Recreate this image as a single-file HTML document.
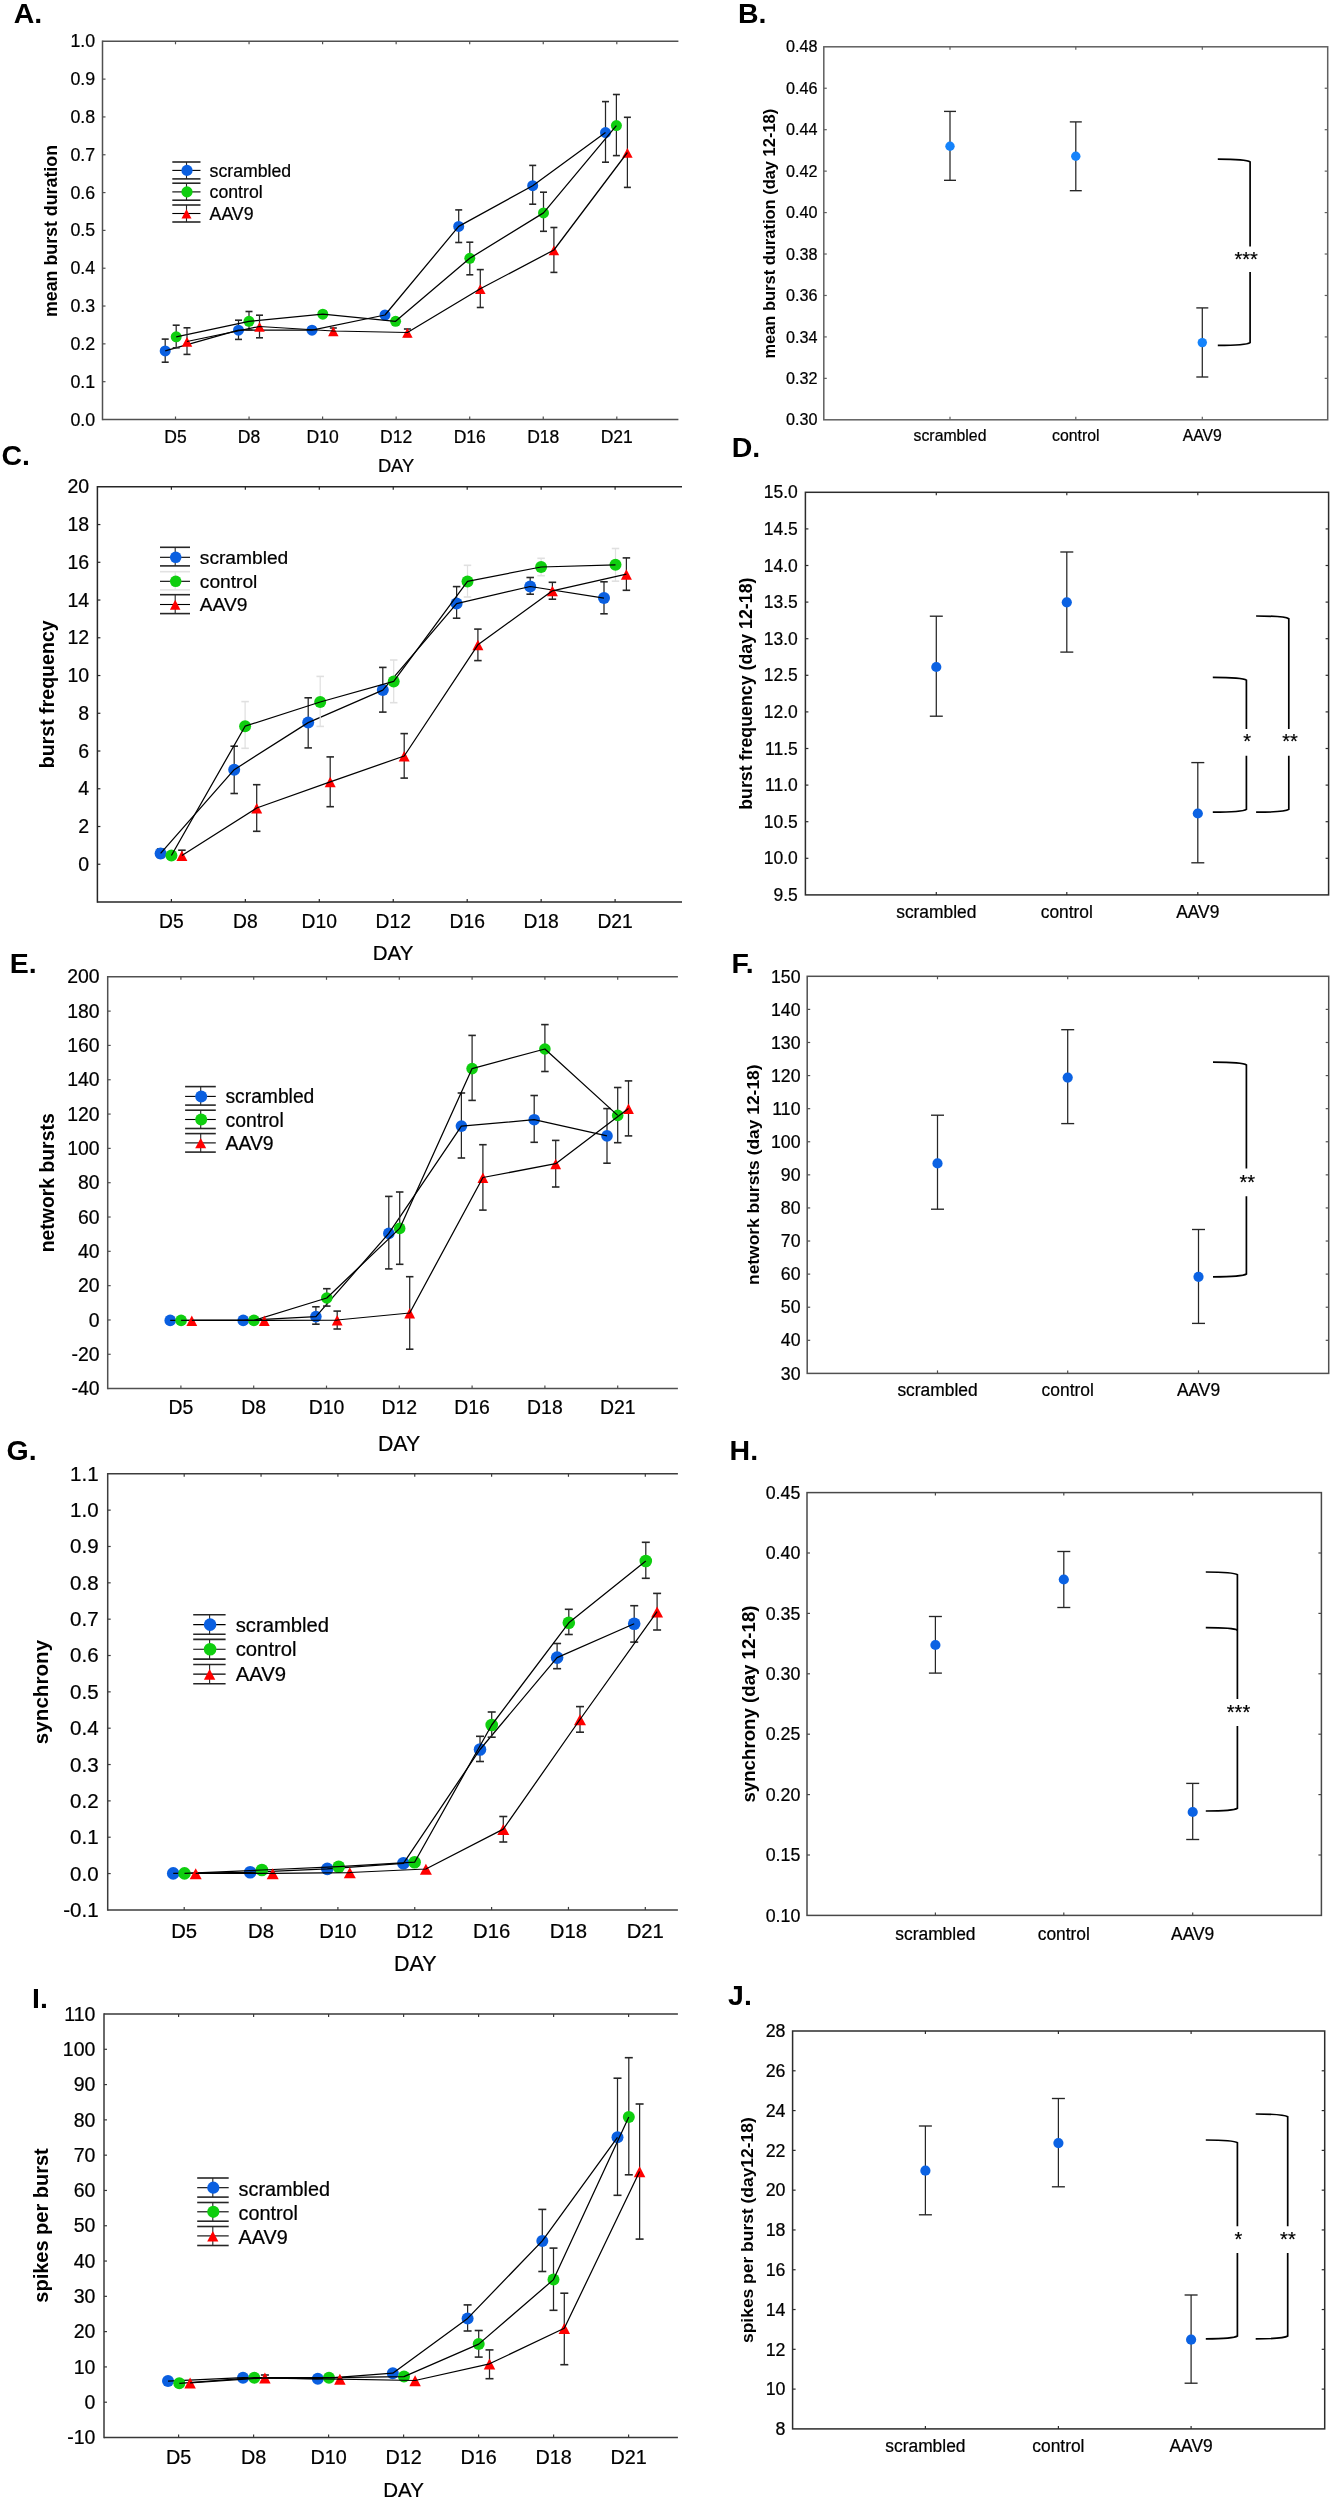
<!DOCTYPE html>
<html><head><meta charset="utf-8"><title>figure</title>
<style>
html,body{margin:0;padding:0;background:#fff;}
svg{display:block;will-change:transform;}
text{font-family:"Liberation Sans", sans-serif;}
text:not([font-weight]){stroke:#000;stroke-width:0.22px;}
</style></head>
<body>
<svg width="1332" height="2500" viewBox="0 0 1332 2500">
<g>
<rect width="1332" height="2500" fill="#fff"/>
<line x1="102.5" y1="41.3" x2="678.4" y2="41.3" stroke="#505050" stroke-width="1.5"/>
<line x1="102.5" y1="419.5" x2="678.4" y2="419.5" stroke="#505050" stroke-width="1.5"/>
<line x1="102.5" y1="40.55" x2="102.5" y2="420.25" stroke="#505050" stroke-width="1.5"/>
<text x="95.2" y="425.55" font-size="17.8" text-anchor="end">0.0</text>
<line x1="102.5" y1="381.68" x2="105.5" y2="381.68" stroke="#505050" stroke-width="1.2"/>
<text x="95.2" y="387.73" font-size="17.8" text-anchor="end">0.1</text>
<line x1="102.5" y1="343.86" x2="105.5" y2="343.86" stroke="#505050" stroke-width="1.2"/>
<text x="95.2" y="349.91" font-size="17.8" text-anchor="end">0.2</text>
<line x1="102.5" y1="306.04" x2="105.5" y2="306.04" stroke="#505050" stroke-width="1.2"/>
<text x="95.2" y="312.09" font-size="17.8" text-anchor="end">0.3</text>
<line x1="102.5" y1="268.22" x2="105.5" y2="268.22" stroke="#505050" stroke-width="1.2"/>
<text x="95.2" y="274.27" font-size="17.8" text-anchor="end">0.4</text>
<line x1="102.5" y1="230.4" x2="105.5" y2="230.4" stroke="#505050" stroke-width="1.2"/>
<text x="95.2" y="236.45" font-size="17.8" text-anchor="end">0.5</text>
<line x1="102.5" y1="192.58" x2="105.5" y2="192.58" stroke="#505050" stroke-width="1.2"/>
<text x="95.2" y="198.63" font-size="17.8" text-anchor="end">0.6</text>
<line x1="102.5" y1="154.76" x2="105.5" y2="154.76" stroke="#505050" stroke-width="1.2"/>
<text x="95.2" y="160.81" font-size="17.8" text-anchor="end">0.7</text>
<line x1="102.5" y1="116.94" x2="105.5" y2="116.94" stroke="#505050" stroke-width="1.2"/>
<text x="95.2" y="122.99" font-size="17.8" text-anchor="end">0.8</text>
<line x1="102.5" y1="79.12" x2="105.5" y2="79.12" stroke="#505050" stroke-width="1.2"/>
<text x="95.2" y="85.17" font-size="17.8" text-anchor="end">0.9</text>
<text x="95.2" y="47.35" font-size="17.8" text-anchor="end">1.0</text>
<line x1="175.5" y1="41.3" x2="175.5" y2="44.3" stroke="#505050" stroke-width="1.2"/>
<line x1="175.5" y1="419.5" x2="175.5" y2="416.5" stroke="#505050" stroke-width="1.2"/>
<text x="175.5" y="443.2" font-size="17.5" text-anchor="middle">D5</text>
<line x1="249.05" y1="41.3" x2="249.05" y2="44.3" stroke="#505050" stroke-width="1.2"/>
<line x1="249.05" y1="419.5" x2="249.05" y2="416.5" stroke="#505050" stroke-width="1.2"/>
<text x="249.05" y="443.2" font-size="17.5" text-anchor="middle">D8</text>
<line x1="322.6" y1="41.3" x2="322.6" y2="44.3" stroke="#505050" stroke-width="1.2"/>
<line x1="322.6" y1="419.5" x2="322.6" y2="416.5" stroke="#505050" stroke-width="1.2"/>
<text x="322.6" y="443.2" font-size="17.5" text-anchor="middle">D10</text>
<line x1="396.15" y1="41.3" x2="396.15" y2="44.3" stroke="#505050" stroke-width="1.2"/>
<line x1="396.15" y1="419.5" x2="396.15" y2="416.5" stroke="#505050" stroke-width="1.2"/>
<text x="396.15" y="443.2" font-size="17.5" text-anchor="middle">D12</text>
<line x1="469.7" y1="41.3" x2="469.7" y2="44.3" stroke="#505050" stroke-width="1.2"/>
<line x1="469.7" y1="419.5" x2="469.7" y2="416.5" stroke="#505050" stroke-width="1.2"/>
<text x="469.7" y="443.2" font-size="17.5" text-anchor="middle">D16</text>
<line x1="543.25" y1="41.3" x2="543.25" y2="44.3" stroke="#505050" stroke-width="1.2"/>
<line x1="543.25" y1="419.5" x2="543.25" y2="416.5" stroke="#505050" stroke-width="1.2"/>
<text x="543.25" y="443.2" font-size="17.5" text-anchor="middle">D18</text>
<line x1="616.8" y1="41.3" x2="616.8" y2="44.3" stroke="#505050" stroke-width="1.2"/>
<line x1="616.8" y1="419.5" x2="616.8" y2="416.5" stroke="#505050" stroke-width="1.2"/>
<text x="616.8" y="443.2" font-size="17.5" text-anchor="middle">D21</text>
<text x="396" y="472.3" font-size="18.3" text-anchor="middle">DAY</text>
<text x="56.9" y="231" font-size="17.8" text-anchor="middle" font-weight="bold" textLength="172" lengthAdjust="spacingAndGlyphs" transform="rotate(-90 56.9 231)">mean burst duration</text>
<text x="13.7" y="22.5" font-size="28.5" font-weight="bold">A.</text>
<line x1="186.5" y1="162" x2="186.5" y2="178.9" stroke="#262626" stroke-width="1.1"/>
<line x1="172.3" y1="162" x2="200.5" y2="162" stroke="#262626" stroke-width="1.6"/>
<line x1="172.3" y1="178.9" x2="200.5" y2="178.9" stroke="#262626" stroke-width="1.6"/>
<line x1="172.3" y1="170.4" x2="200.5" y2="170.4" stroke="#000" stroke-width="1.1"/>
<circle cx="187" cy="170.4" r="5.6" fill="#0a5fe0"/>
<text x="209.6" y="176.9" font-size="17.7" textLength="81.6" lengthAdjust="spacingAndGlyphs">scrambled</text>
<line x1="186.5" y1="183.2" x2="186.5" y2="200.2" stroke="#262626" stroke-width="1.1"/>
<line x1="172.3" y1="183.2" x2="200.5" y2="183.2" stroke="#262626" stroke-width="1.6"/>
<line x1="172.3" y1="200.2" x2="200.5" y2="200.2" stroke="#262626" stroke-width="1.6"/>
<line x1="172.3" y1="191.9" x2="200.5" y2="191.9" stroke="#000" stroke-width="1.1"/>
<circle cx="187" cy="191.9" r="5.6" fill="#0fce0f"/>
<text x="209.6" y="197.6" font-size="17.7">control</text>
<line x1="186.5" y1="205" x2="186.5" y2="222" stroke="#262626" stroke-width="1.1"/>
<line x1="172.3" y1="205" x2="200.5" y2="205" stroke="#262626" stroke-width="1.6"/>
<line x1="172.3" y1="222" x2="200.5" y2="222" stroke="#262626" stroke-width="1.6"/>
<line x1="172.3" y1="213.5" x2="200.5" y2="213.5" stroke="#000" stroke-width="1.1"/>
<path d="M186.5 209.2L191.5 218.4L181.5 218.4Z" fill="#ff0000"/>
<text x="209.6" y="219.7" font-size="17.7">AAV9</text>
<line x1="165.2" y1="339.1" x2="165.2" y2="362.2" stroke="#262626" stroke-width="1.25"/>
<line x1="161.7" y1="339.1" x2="168.7" y2="339.1" stroke="#262626" stroke-width="1.6"/>
<line x1="161.7" y1="362.2" x2="168.7" y2="362.2" stroke="#262626" stroke-width="1.6"/>
<line x1="238.5" y1="320.2" x2="238.5" y2="339.4" stroke="#262626" stroke-width="1.25"/>
<line x1="235" y1="320.2" x2="242" y2="320.2" stroke="#262626" stroke-width="1.6"/>
<line x1="235" y1="339.4" x2="242" y2="339.4" stroke="#262626" stroke-width="1.6"/>
<line x1="312" y1="327" x2="312" y2="333" stroke="#262626" stroke-width="1.25"/>
<line x1="308.5" y1="327" x2="315.5" y2="327" stroke="#262626" stroke-width="1.6"/>
<line x1="308.5" y1="333" x2="315.5" y2="333" stroke="#262626" stroke-width="1.6"/>
<line x1="385" y1="312" x2="385" y2="318" stroke="#262626" stroke-width="1.25"/>
<line x1="381.5" y1="312" x2="388.5" y2="312" stroke="#262626" stroke-width="1.6"/>
<line x1="381.5" y1="318" x2="388.5" y2="318" stroke="#262626" stroke-width="1.6"/>
<line x1="458.7" y1="209.9" x2="458.7" y2="242.5" stroke="#262626" stroke-width="1.25"/>
<line x1="455.2" y1="209.9" x2="462.2" y2="209.9" stroke="#262626" stroke-width="1.6"/>
<line x1="455.2" y1="242.5" x2="462.2" y2="242.5" stroke="#262626" stroke-width="1.6"/>
<line x1="532.7" y1="165.4" x2="532.7" y2="204.2" stroke="#262626" stroke-width="1.25"/>
<line x1="529.2" y1="165.4" x2="536.2" y2="165.4" stroke="#262626" stroke-width="1.6"/>
<line x1="529.2" y1="204.2" x2="536.2" y2="204.2" stroke="#262626" stroke-width="1.6"/>
<line x1="605.5" y1="101.6" x2="605.5" y2="162.2" stroke="#262626" stroke-width="1.25"/>
<line x1="602" y1="101.6" x2="609" y2="101.6" stroke="#262626" stroke-width="1.6"/>
<line x1="602" y1="162.2" x2="609" y2="162.2" stroke="#262626" stroke-width="1.6"/>
<circle cx="165.2" cy="350.9" r="5.5" fill="#0a5fe0"/>
<circle cx="238.5" cy="330.2" r="5.5" fill="#0a5fe0"/>
<circle cx="312" cy="330.2" r="5.5" fill="#0a5fe0"/>
<circle cx="385" cy="315" r="5.5" fill="#0a5fe0"/>
<circle cx="458.7" cy="226.4" r="5.5" fill="#0a5fe0"/>
<circle cx="532.7" cy="185.7" r="5.5" fill="#0a5fe0"/>
<circle cx="605.5" cy="132.6" r="5.5" fill="#0a5fe0"/>
<polyline points="165.2,350.9 238.5,330.2 312,330.2 385,315 458.7,226.4 532.7,185.7 605.5,132.6" fill="none" stroke="#000" stroke-width="1.25" stroke-linejoin="round"/>
<line x1="176.2" y1="325.2" x2="176.2" y2="347.8" stroke="#262626" stroke-width="1.25"/>
<line x1="172.7" y1="325.2" x2="179.7" y2="325.2" stroke="#262626" stroke-width="1.6"/>
<line x1="172.7" y1="347.8" x2="179.7" y2="347.8" stroke="#262626" stroke-width="1.6"/>
<line x1="249" y1="311.5" x2="249" y2="330" stroke="#262626" stroke-width="1.25"/>
<line x1="245.5" y1="311.5" x2="252.5" y2="311.5" stroke="#262626" stroke-width="1.6"/>
<line x1="245.5" y1="330" x2="252.5" y2="330" stroke="#262626" stroke-width="1.6"/>
<line x1="322.8" y1="311" x2="322.8" y2="317" stroke="#262626" stroke-width="1.25"/>
<line x1="319.3" y1="311" x2="326.3" y2="311" stroke="#262626" stroke-width="1.6"/>
<line x1="319.3" y1="317" x2="326.3" y2="317" stroke="#262626" stroke-width="1.6"/>
<line x1="395.6" y1="318" x2="395.6" y2="324" stroke="#262626" stroke-width="1.25"/>
<line x1="392.1" y1="318" x2="399.1" y2="318" stroke="#262626" stroke-width="1.6"/>
<line x1="392.1" y1="324" x2="399.1" y2="324" stroke="#262626" stroke-width="1.6"/>
<line x1="469.8" y1="242.2" x2="469.8" y2="274.8" stroke="#262626" stroke-width="1.25"/>
<line x1="466.3" y1="242.2" x2="473.3" y2="242.2" stroke="#262626" stroke-width="1.6"/>
<line x1="466.3" y1="274.8" x2="473.3" y2="274.8" stroke="#262626" stroke-width="1.6"/>
<line x1="543.5" y1="192.2" x2="543.5" y2="231.3" stroke="#262626" stroke-width="1.25"/>
<line x1="540" y1="192.2" x2="547" y2="192.2" stroke="#262626" stroke-width="1.6"/>
<line x1="540" y1="231.3" x2="547" y2="231.3" stroke="#262626" stroke-width="1.6"/>
<line x1="616.4" y1="94.5" x2="616.4" y2="155.6" stroke="#262626" stroke-width="1.25"/>
<line x1="612.9" y1="94.5" x2="619.9" y2="94.5" stroke="#262626" stroke-width="1.6"/>
<line x1="612.9" y1="155.6" x2="619.9" y2="155.6" stroke="#262626" stroke-width="1.6"/>
<circle cx="176.2" cy="336.8" r="5.5" fill="#0fce0f"/>
<circle cx="249" cy="321.3" r="5.5" fill="#0fce0f"/>
<circle cx="322.8" cy="314.2" r="5.5" fill="#0fce0f"/>
<circle cx="395.6" cy="321.3" r="5.5" fill="#0fce0f"/>
<circle cx="469.8" cy="258.3" r="5.5" fill="#0fce0f"/>
<circle cx="543.5" cy="212.9" r="5.5" fill="#0fce0f"/>
<circle cx="616.4" cy="125.6" r="5.5" fill="#0fce0f"/>
<polyline points="176.2,336.8 249,321.3 322.8,314.2 395.6,321.3 469.8,258.3 543.5,212.9 616.4,125.6" fill="none" stroke="#000" stroke-width="1.25" stroke-linejoin="round"/>
<line x1="187" y1="327.8" x2="187" y2="354.4" stroke="#262626" stroke-width="1.25"/>
<line x1="183.5" y1="327.8" x2="190.5" y2="327.8" stroke="#262626" stroke-width="1.6"/>
<line x1="183.5" y1="354.4" x2="190.5" y2="354.4" stroke="#262626" stroke-width="1.6"/>
<line x1="259.5" y1="315.2" x2="259.5" y2="337.8" stroke="#262626" stroke-width="1.25"/>
<line x1="256" y1="315.2" x2="263" y2="315.2" stroke="#262626" stroke-width="1.6"/>
<line x1="256" y1="337.8" x2="263" y2="337.8" stroke="#262626" stroke-width="1.6"/>
<line x1="333.3" y1="328" x2="333.3" y2="334" stroke="#262626" stroke-width="1.25"/>
<line x1="329.8" y1="328" x2="336.8" y2="328" stroke="#262626" stroke-width="1.6"/>
<line x1="329.8" y1="334" x2="336.8" y2="334" stroke="#262626" stroke-width="1.6"/>
<line x1="407.4" y1="329" x2="407.4" y2="336.5" stroke="#262626" stroke-width="1.25"/>
<line x1="403.9" y1="329" x2="410.9" y2="329" stroke="#262626" stroke-width="1.6"/>
<line x1="403.9" y1="336.5" x2="410.9" y2="336.5" stroke="#262626" stroke-width="1.6"/>
<line x1="480.3" y1="269.6" x2="480.3" y2="307.5" stroke="#262626" stroke-width="1.25"/>
<line x1="476.8" y1="269.6" x2="483.8" y2="269.6" stroke="#262626" stroke-width="1.6"/>
<line x1="476.8" y1="307.5" x2="483.8" y2="307.5" stroke="#262626" stroke-width="1.6"/>
<line x1="553.9" y1="227.5" x2="553.9" y2="272.4" stroke="#262626" stroke-width="1.25"/>
<line x1="550.4" y1="227.5" x2="557.4" y2="227.5" stroke="#262626" stroke-width="1.6"/>
<line x1="550.4" y1="272.4" x2="557.4" y2="272.4" stroke="#262626" stroke-width="1.6"/>
<line x1="627.4" y1="117.3" x2="627.4" y2="187.4" stroke="#262626" stroke-width="1.25"/>
<line x1="623.9" y1="117.3" x2="630.9" y2="117.3" stroke="#262626" stroke-width="1.6"/>
<line x1="623.9" y1="187.4" x2="630.9" y2="187.4" stroke="#262626" stroke-width="1.6"/>
<path d="M187 336.9L192.25 346.7L181.75 346.7Z" fill="#ff0000"/>
<path d="M259.5 321.9L264.75 331.7L254.25 331.7Z" fill="#ff0000"/>
<path d="M333.3 326.4L338.55 336.2L328.05 336.2Z" fill="#ff0000"/>
<path d="M407.4 327.9L412.65 337.7L402.15 337.7Z" fill="#ff0000"/>
<path d="M480.3 284.2L485.55 294L475.05 294Z" fill="#ff0000"/>
<path d="M553.9 245.4L559.15 255.2L548.65 255.2Z" fill="#ff0000"/>
<path d="M627.4 147.9L632.65 157.7L622.15 157.7Z" fill="#ff0000"/>
<polyline points="187,341.5 259.5,326.5 333.3,331 407.4,332.5 480.3,288.8 553.9,250 627.4,152.5" fill="none" stroke="#000" stroke-width="1.25" stroke-linejoin="round"/>
<line x1="97.4" y1="486.8" x2="682" y2="486.8" stroke="#262626" stroke-width="1.5"/>
<line x1="97.4" y1="902" x2="682" y2="902" stroke="#262626" stroke-width="1.5"/>
<line x1="97.4" y1="486.05" x2="97.4" y2="902.75" stroke="#262626" stroke-width="1.5"/>
<line x1="97.4" y1="864.25" x2="100.4" y2="864.25" stroke="#262626" stroke-width="1.2"/>
<text x="89.2" y="870.88" font-size="19.5" text-anchor="end">0</text>
<line x1="97.4" y1="826.51" x2="100.4" y2="826.51" stroke="#262626" stroke-width="1.2"/>
<text x="89.2" y="833.14" font-size="19.5" text-anchor="end">2</text>
<line x1="97.4" y1="788.76" x2="100.4" y2="788.76" stroke="#262626" stroke-width="1.2"/>
<text x="89.2" y="795.39" font-size="19.5" text-anchor="end">4</text>
<line x1="97.4" y1="751.02" x2="100.4" y2="751.02" stroke="#262626" stroke-width="1.2"/>
<text x="89.2" y="757.65" font-size="19.5" text-anchor="end">6</text>
<line x1="97.4" y1="713.27" x2="100.4" y2="713.27" stroke="#262626" stroke-width="1.2"/>
<text x="89.2" y="719.9" font-size="19.5" text-anchor="end">8</text>
<line x1="97.4" y1="675.53" x2="100.4" y2="675.53" stroke="#262626" stroke-width="1.2"/>
<text x="89.2" y="682.16" font-size="19.5" text-anchor="end">10</text>
<line x1="97.4" y1="637.78" x2="100.4" y2="637.78" stroke="#262626" stroke-width="1.2"/>
<text x="89.2" y="644.41" font-size="19.5" text-anchor="end">12</text>
<line x1="97.4" y1="600.04" x2="100.4" y2="600.04" stroke="#262626" stroke-width="1.2"/>
<text x="89.2" y="606.67" font-size="19.5" text-anchor="end">14</text>
<line x1="97.4" y1="562.29" x2="100.4" y2="562.29" stroke="#262626" stroke-width="1.2"/>
<text x="89.2" y="568.92" font-size="19.5" text-anchor="end">16</text>
<line x1="97.4" y1="524.55" x2="100.4" y2="524.55" stroke="#262626" stroke-width="1.2"/>
<text x="89.2" y="531.18" font-size="19.5" text-anchor="end">18</text>
<text x="89.2" y="493.43" font-size="19.5" text-anchor="end">20</text>
<line x1="171.4" y1="486.8" x2="171.4" y2="489.8" stroke="#262626" stroke-width="1.2"/>
<line x1="171.4" y1="902" x2="171.4" y2="899" stroke="#262626" stroke-width="1.2"/>
<text x="171.4" y="928" font-size="19.3" text-anchor="middle">D5</text>
<line x1="245.35" y1="486.8" x2="245.35" y2="489.8" stroke="#262626" stroke-width="1.2"/>
<line x1="245.35" y1="902" x2="245.35" y2="899" stroke="#262626" stroke-width="1.2"/>
<text x="245.35" y="928" font-size="19.3" text-anchor="middle">D8</text>
<line x1="319.3" y1="486.8" x2="319.3" y2="489.8" stroke="#262626" stroke-width="1.2"/>
<line x1="319.3" y1="902" x2="319.3" y2="899" stroke="#262626" stroke-width="1.2"/>
<text x="319.3" y="928" font-size="19.3" text-anchor="middle">D10</text>
<line x1="393.25" y1="486.8" x2="393.25" y2="489.8" stroke="#262626" stroke-width="1.2"/>
<line x1="393.25" y1="902" x2="393.25" y2="899" stroke="#262626" stroke-width="1.2"/>
<text x="393.25" y="928" font-size="19.3" text-anchor="middle">D12</text>
<line x1="467.2" y1="486.8" x2="467.2" y2="489.8" stroke="#262626" stroke-width="1.2"/>
<line x1="467.2" y1="902" x2="467.2" y2="899" stroke="#262626" stroke-width="1.2"/>
<text x="467.2" y="928" font-size="19.3" text-anchor="middle">D16</text>
<line x1="541.15" y1="486.8" x2="541.15" y2="489.8" stroke="#262626" stroke-width="1.2"/>
<line x1="541.15" y1="902" x2="541.15" y2="899" stroke="#262626" stroke-width="1.2"/>
<text x="541.15" y="928" font-size="19.3" text-anchor="middle">D18</text>
<line x1="615.1" y1="486.8" x2="615.1" y2="489.8" stroke="#262626" stroke-width="1.2"/>
<line x1="615.1" y1="902" x2="615.1" y2="899" stroke="#262626" stroke-width="1.2"/>
<text x="615.1" y="928" font-size="19.3" text-anchor="middle">D21</text>
<text x="393" y="960.4" font-size="20.5" text-anchor="middle">DAY</text>
<text x="54" y="694.3" font-size="19.5" text-anchor="middle" font-weight="bold" textLength="147.9" lengthAdjust="spacingAndGlyphs" transform="rotate(-90 54 694.3)">burst frequency</text>
<text x="1.5" y="464.9" font-size="28.5" font-weight="bold">C.</text>
<line x1="175.2" y1="547.3" x2="175.2" y2="565.9" stroke="#262626" stroke-width="1.1"/>
<line x1="160" y1="547.3" x2="190" y2="547.3" stroke="#262626" stroke-width="1.6"/>
<line x1="160" y1="565.9" x2="190" y2="565.9" stroke="#262626" stroke-width="1.6"/>
<line x1="160" y1="557.3" x2="190" y2="557.3" stroke="#000" stroke-width="1.1"/>
<circle cx="175.7" cy="557.3" r="5.8" fill="#0a5fe0"/>
<text x="199.8" y="564.3" font-size="19.2" textLength="88.5" lengthAdjust="spacingAndGlyphs">scrambled</text>
<line x1="175.2" y1="571.7" x2="175.2" y2="589.9" stroke="#e2e2e2" stroke-width="1.1"/>
<line x1="160" y1="571.7" x2="190" y2="571.7" stroke="#e2e2e2" stroke-width="1.6"/>
<line x1="160" y1="589.9" x2="190" y2="589.9" stroke="#e2e2e2" stroke-width="1.6"/>
<line x1="160" y1="581.3" x2="190" y2="581.3" stroke="#000" stroke-width="1.1"/>
<circle cx="175.7" cy="581.3" r="5.8" fill="#0fce0f"/>
<text x="199.8" y="587.5" font-size="19.2">control</text>
<line x1="175.2" y1="594.7" x2="175.2" y2="613.6" stroke="#262626" stroke-width="1.1"/>
<line x1="160" y1="594.7" x2="190" y2="594.7" stroke="#262626" stroke-width="1.6"/>
<line x1="160" y1="613.6" x2="190" y2="613.6" stroke="#262626" stroke-width="1.6"/>
<line x1="160" y1="604.5" x2="190" y2="604.5" stroke="#000" stroke-width="1.1"/>
<path d="M175.2 599.8L180.45 609.8L169.95 609.8Z" fill="#ff0000"/>
<text x="199.8" y="610.8" font-size="19.2">AAV9</text>
<line x1="160.6" y1="849" x2="160.6" y2="857.5" stroke="#262626" stroke-width="1.25"/>
<line x1="156.85" y1="849" x2="164.35" y2="849" stroke="#262626" stroke-width="1.6"/>
<line x1="156.85" y1="857.5" x2="164.35" y2="857.5" stroke="#262626" stroke-width="1.6"/>
<line x1="234.2" y1="746.2" x2="234.2" y2="793.5" stroke="#262626" stroke-width="1.25"/>
<line x1="230.45" y1="746.2" x2="237.95" y2="746.2" stroke="#262626" stroke-width="1.6"/>
<line x1="230.45" y1="793.5" x2="237.95" y2="793.5" stroke="#262626" stroke-width="1.6"/>
<line x1="308.2" y1="697.8" x2="308.2" y2="747.9" stroke="#262626" stroke-width="1.25"/>
<line x1="304.45" y1="697.8" x2="311.95" y2="697.8" stroke="#262626" stroke-width="1.6"/>
<line x1="304.45" y1="747.9" x2="311.95" y2="747.9" stroke="#262626" stroke-width="1.6"/>
<line x1="382.8" y1="667.4" x2="382.8" y2="712.1" stroke="#262626" stroke-width="1.25"/>
<line x1="379.05" y1="667.4" x2="386.55" y2="667.4" stroke="#262626" stroke-width="1.6"/>
<line x1="379.05" y1="712.1" x2="386.55" y2="712.1" stroke="#262626" stroke-width="1.6"/>
<line x1="456.6" y1="586.6" x2="456.6" y2="618.2" stroke="#262626" stroke-width="1.25"/>
<line x1="452.85" y1="586.6" x2="460.35" y2="586.6" stroke="#262626" stroke-width="1.6"/>
<line x1="452.85" y1="618.2" x2="460.35" y2="618.2" stroke="#262626" stroke-width="1.6"/>
<line x1="530.2" y1="577.5" x2="530.2" y2="594.2" stroke="#262626" stroke-width="1.25"/>
<line x1="526.45" y1="577.5" x2="533.95" y2="577.5" stroke="#262626" stroke-width="1.6"/>
<line x1="526.45" y1="594.2" x2="533.95" y2="594.2" stroke="#262626" stroke-width="1.6"/>
<line x1="604" y1="581.8" x2="604" y2="613.8" stroke="#262626" stroke-width="1.25"/>
<line x1="600.25" y1="581.8" x2="607.75" y2="581.8" stroke="#262626" stroke-width="1.6"/>
<line x1="600.25" y1="613.8" x2="607.75" y2="613.8" stroke="#262626" stroke-width="1.6"/>
<circle cx="160.6" cy="853.4" r="6" fill="#0a5fe0"/>
<circle cx="234.2" cy="769.7" r="6" fill="#0a5fe0"/>
<circle cx="308.2" cy="722.6" r="6" fill="#0a5fe0"/>
<circle cx="382.8" cy="690.1" r="6" fill="#0a5fe0"/>
<circle cx="456.6" cy="603.6" r="6" fill="#0a5fe0"/>
<circle cx="530.2" cy="586.5" r="6" fill="#0a5fe0"/>
<circle cx="604" cy="598.1" r="6" fill="#0a5fe0"/>
<polyline points="160.6,853.4 234.2,769.7 308.2,722.6 382.8,690.1 456.6,603.6 530.2,586.5 604,598.1" fill="none" stroke="#000" stroke-width="1.25" stroke-linejoin="round"/>
<line x1="171.4" y1="853" x2="171.4" y2="858" stroke="#e0e0e0" stroke-width="1.25"/>
<line x1="167.65" y1="853" x2="175.15" y2="853" stroke="#e0e0e0" stroke-width="1.6"/>
<line x1="167.65" y1="858" x2="175.15" y2="858" stroke="#e0e0e0" stroke-width="1.6"/>
<line x1="245.1" y1="701.6" x2="245.1" y2="748.3" stroke="#e0e0e0" stroke-width="1.25"/>
<line x1="241.35" y1="701.6" x2="248.85" y2="701.6" stroke="#e0e0e0" stroke-width="1.6"/>
<line x1="241.35" y1="748.3" x2="248.85" y2="748.3" stroke="#e0e0e0" stroke-width="1.6"/>
<line x1="320.2" y1="676.4" x2="320.2" y2="726.4" stroke="#e0e0e0" stroke-width="1.25"/>
<line x1="316.45" y1="676.4" x2="323.95" y2="676.4" stroke="#e0e0e0" stroke-width="1.6"/>
<line x1="316.45" y1="726.4" x2="323.95" y2="726.4" stroke="#e0e0e0" stroke-width="1.6"/>
<line x1="393.7" y1="660" x2="393.7" y2="702.7" stroke="#e0e0e0" stroke-width="1.25"/>
<line x1="389.95" y1="660" x2="397.45" y2="660" stroke="#e0e0e0" stroke-width="1.6"/>
<line x1="389.95" y1="702.7" x2="397.45" y2="702.7" stroke="#e0e0e0" stroke-width="1.6"/>
<line x1="467.5" y1="565.3" x2="467.5" y2="597" stroke="#e0e0e0" stroke-width="1.25"/>
<line x1="463.75" y1="565.3" x2="471.25" y2="565.3" stroke="#e0e0e0" stroke-width="1.6"/>
<line x1="463.75" y1="597" x2="471.25" y2="597" stroke="#e0e0e0" stroke-width="1.6"/>
<line x1="541.1" y1="558.3" x2="541.1" y2="575.7" stroke="#e0e0e0" stroke-width="1.25"/>
<line x1="537.35" y1="558.3" x2="544.85" y2="558.3" stroke="#e0e0e0" stroke-width="1.6"/>
<line x1="537.35" y1="575.7" x2="544.85" y2="575.7" stroke="#e0e0e0" stroke-width="1.6"/>
<line x1="615.5" y1="548.5" x2="615.5" y2="581.2" stroke="#e0e0e0" stroke-width="1.25"/>
<line x1="611.75" y1="548.5" x2="619.25" y2="548.5" stroke="#e0e0e0" stroke-width="1.6"/>
<line x1="611.75" y1="581.2" x2="619.25" y2="581.2" stroke="#e0e0e0" stroke-width="1.6"/>
<circle cx="171.4" cy="855.5" r="6" fill="#0fce0f"/>
<circle cx="245.1" cy="726.2" r="6" fill="#0fce0f"/>
<circle cx="320.2" cy="702" r="6" fill="#0fce0f"/>
<circle cx="393.7" cy="681.4" r="6" fill="#0fce0f"/>
<circle cx="467.5" cy="581.4" r="6" fill="#0fce0f"/>
<circle cx="541.1" cy="567" r="6" fill="#0fce0f"/>
<circle cx="615.5" cy="564.8" r="6" fill="#0fce0f"/>
<polyline points="171.4,855.5 245.1,726.2 320.2,702 393.7,681.4 467.5,581.4 541.1,567 615.5,564.8" fill="none" stroke="#000" stroke-width="1.25" stroke-linejoin="round"/>
<line x1="181.9" y1="850.2" x2="181.9" y2="860" stroke="#262626" stroke-width="1.25"/>
<line x1="178.15" y1="850.2" x2="185.65" y2="850.2" stroke="#262626" stroke-width="1.6"/>
<line x1="178.15" y1="860" x2="185.65" y2="860" stroke="#262626" stroke-width="1.6"/>
<line x1="256.7" y1="784.7" x2="256.7" y2="831.3" stroke="#262626" stroke-width="1.25"/>
<line x1="252.95" y1="784.7" x2="260.45" y2="784.7" stroke="#262626" stroke-width="1.6"/>
<line x1="252.95" y1="831.3" x2="260.45" y2="831.3" stroke="#262626" stroke-width="1.6"/>
<line x1="330.2" y1="756.9" x2="330.2" y2="806.7" stroke="#262626" stroke-width="1.25"/>
<line x1="326.45" y1="756.9" x2="333.95" y2="756.9" stroke="#262626" stroke-width="1.6"/>
<line x1="326.45" y1="806.7" x2="333.95" y2="806.7" stroke="#262626" stroke-width="1.6"/>
<line x1="404.2" y1="733.6" x2="404.2" y2="778.1" stroke="#262626" stroke-width="1.25"/>
<line x1="400.45" y1="733.6" x2="407.95" y2="733.6" stroke="#262626" stroke-width="1.6"/>
<line x1="400.45" y1="778.1" x2="407.95" y2="778.1" stroke="#262626" stroke-width="1.6"/>
<line x1="477.9" y1="629.1" x2="477.9" y2="660.6" stroke="#262626" stroke-width="1.25"/>
<line x1="474.15" y1="629.1" x2="481.65" y2="629.1" stroke="#262626" stroke-width="1.6"/>
<line x1="474.15" y1="660.6" x2="481.65" y2="660.6" stroke="#262626" stroke-width="1.6"/>
<line x1="552.4" y1="582.3" x2="552.4" y2="599.2" stroke="#262626" stroke-width="1.25"/>
<line x1="548.65" y1="582.3" x2="556.15" y2="582.3" stroke="#262626" stroke-width="1.6"/>
<line x1="548.65" y1="599.2" x2="556.15" y2="599.2" stroke="#262626" stroke-width="1.6"/>
<line x1="626.4" y1="557.9" x2="626.4" y2="590.3" stroke="#262626" stroke-width="1.25"/>
<line x1="622.65" y1="557.9" x2="630.15" y2="557.9" stroke="#262626" stroke-width="1.6"/>
<line x1="622.65" y1="590.3" x2="630.15" y2="590.3" stroke="#262626" stroke-width="1.6"/>
<path d="M181.9 850.55L187.4 861.05L176.4 861.05Z" fill="#ff0000"/>
<path d="M256.7 803.05L262.2 813.55L251.2 813.55Z" fill="#ff0000"/>
<path d="M330.2 776.85L335.7 787.35L324.7 787.35Z" fill="#ff0000"/>
<path d="M404.2 751.05L409.7 761.55L398.7 761.55Z" fill="#ff0000"/>
<path d="M477.9 639.85L483.4 650.35L472.4 650.35Z" fill="#ff0000"/>
<path d="M552.4 585.85L557.9 596.35L546.9 596.35Z" fill="#ff0000"/>
<path d="M626.4 569.15L631.9 579.65L620.9 579.65Z" fill="#ff0000"/>
<polyline points="181.9,855.5 256.7,808 330.2,781.8 404.2,756 477.9,644.8 552.4,590.8 626.4,574.1" fill="none" stroke="#000" stroke-width="1.25" stroke-linejoin="round"/>
<line x1="107.7" y1="976.8" x2="677.9" y2="976.8" stroke="#505050" stroke-width="1.5"/>
<line x1="107.7" y1="1388.6" x2="677.9" y2="1388.6" stroke="#505050" stroke-width="1.5"/>
<line x1="107.7" y1="976.05" x2="107.7" y2="1389.35" stroke="#505050" stroke-width="1.5"/>
<text x="99.6" y="1395.2" font-size="19.4" text-anchor="end">-40</text>
<line x1="107.7" y1="1354.28" x2="110.7" y2="1354.28" stroke="#505050" stroke-width="1.2"/>
<text x="99.6" y="1360.88" font-size="19.4" text-anchor="end">-20</text>
<line x1="107.7" y1="1319.97" x2="110.7" y2="1319.97" stroke="#505050" stroke-width="1.2"/>
<text x="99.6" y="1326.56" font-size="19.4" text-anchor="end">0</text>
<line x1="107.7" y1="1285.65" x2="110.7" y2="1285.65" stroke="#505050" stroke-width="1.2"/>
<text x="99.6" y="1292.25" font-size="19.4" text-anchor="end">20</text>
<line x1="107.7" y1="1251.33" x2="110.7" y2="1251.33" stroke="#505050" stroke-width="1.2"/>
<text x="99.6" y="1257.93" font-size="19.4" text-anchor="end">40</text>
<line x1="107.7" y1="1217.02" x2="110.7" y2="1217.02" stroke="#505050" stroke-width="1.2"/>
<text x="99.6" y="1223.61" font-size="19.4" text-anchor="end">60</text>
<line x1="107.7" y1="1182.7" x2="110.7" y2="1182.7" stroke="#505050" stroke-width="1.2"/>
<text x="99.6" y="1189.3" font-size="19.4" text-anchor="end">80</text>
<line x1="107.7" y1="1148.38" x2="110.7" y2="1148.38" stroke="#505050" stroke-width="1.2"/>
<text x="99.6" y="1154.98" font-size="19.4" text-anchor="end">100</text>
<line x1="107.7" y1="1114.07" x2="110.7" y2="1114.07" stroke="#505050" stroke-width="1.2"/>
<text x="99.6" y="1120.66" font-size="19.4" text-anchor="end">120</text>
<line x1="107.7" y1="1079.75" x2="110.7" y2="1079.75" stroke="#505050" stroke-width="1.2"/>
<text x="99.6" y="1086.35" font-size="19.4" text-anchor="end">140</text>
<line x1="107.7" y1="1045.43" x2="110.7" y2="1045.43" stroke="#505050" stroke-width="1.2"/>
<text x="99.6" y="1052.03" font-size="19.4" text-anchor="end">160</text>
<line x1="107.7" y1="1011.12" x2="110.7" y2="1011.12" stroke="#505050" stroke-width="1.2"/>
<text x="99.6" y="1017.71" font-size="19.4" text-anchor="end">180</text>
<text x="99.6" y="983.4" font-size="19.4" text-anchor="end">200</text>
<line x1="180.9" y1="976.8" x2="180.9" y2="979.8" stroke="#505050" stroke-width="1.2"/>
<line x1="180.9" y1="1388.6" x2="180.9" y2="1385.6" stroke="#505050" stroke-width="1.2"/>
<text x="180.9" y="1414.2" font-size="19.4" text-anchor="middle">D5</text>
<line x1="253.7" y1="976.8" x2="253.7" y2="979.8" stroke="#505050" stroke-width="1.2"/>
<line x1="253.7" y1="1388.6" x2="253.7" y2="1385.6" stroke="#505050" stroke-width="1.2"/>
<text x="253.7" y="1414.2" font-size="19.4" text-anchor="middle">D8</text>
<line x1="326.5" y1="976.8" x2="326.5" y2="979.8" stroke="#505050" stroke-width="1.2"/>
<line x1="326.5" y1="1388.6" x2="326.5" y2="1385.6" stroke="#505050" stroke-width="1.2"/>
<text x="326.5" y="1414.2" font-size="19.4" text-anchor="middle">D10</text>
<line x1="399.3" y1="976.8" x2="399.3" y2="979.8" stroke="#505050" stroke-width="1.2"/>
<line x1="399.3" y1="1388.6" x2="399.3" y2="1385.6" stroke="#505050" stroke-width="1.2"/>
<text x="399.3" y="1414.2" font-size="19.4" text-anchor="middle">D12</text>
<line x1="472.1" y1="976.8" x2="472.1" y2="979.8" stroke="#505050" stroke-width="1.2"/>
<line x1="472.1" y1="1388.6" x2="472.1" y2="1385.6" stroke="#505050" stroke-width="1.2"/>
<text x="472.1" y="1414.2" font-size="19.4" text-anchor="middle">D16</text>
<line x1="544.9" y1="976.8" x2="544.9" y2="979.8" stroke="#505050" stroke-width="1.2"/>
<line x1="544.9" y1="1388.6" x2="544.9" y2="1385.6" stroke="#505050" stroke-width="1.2"/>
<text x="544.9" y="1414.2" font-size="19.4" text-anchor="middle">D18</text>
<line x1="617.7" y1="976.8" x2="617.7" y2="979.8" stroke="#505050" stroke-width="1.2"/>
<line x1="617.7" y1="1388.6" x2="617.7" y2="1385.6" stroke="#505050" stroke-width="1.2"/>
<text x="617.7" y="1414.2" font-size="19.4" text-anchor="middle">D21</text>
<text x="399" y="1450.5" font-size="21.3" text-anchor="middle">DAY</text>
<text x="54" y="1182.8" font-size="19.4" text-anchor="middle" font-weight="bold" textLength="138.9" lengthAdjust="spacingAndGlyphs" transform="rotate(-90 54 1182.8)">network bursts</text>
<text x="9.8" y="972.5" font-size="28.5" font-weight="bold">E.</text>
<line x1="200.7" y1="1086.6" x2="200.7" y2="1105.1" stroke="#262626" stroke-width="1.1"/>
<line x1="185.1" y1="1086.6" x2="215.8" y2="1086.6" stroke="#262626" stroke-width="1.6"/>
<line x1="185.1" y1="1105.1" x2="215.8" y2="1105.1" stroke="#262626" stroke-width="1.6"/>
<line x1="185.1" y1="1096.4" x2="215.8" y2="1096.4" stroke="#000" stroke-width="1.1"/>
<circle cx="201.2" cy="1096.4" r="6" fill="#0a5fe0"/>
<text x="225.5" y="1102.6" font-size="19.4" textLength="88.8" lengthAdjust="spacingAndGlyphs">scrambled</text>
<line x1="200.7" y1="1110.2" x2="200.7" y2="1128.5" stroke="#262626" stroke-width="1.1"/>
<line x1="185.1" y1="1110.2" x2="215.8" y2="1110.2" stroke="#262626" stroke-width="1.6"/>
<line x1="185.1" y1="1128.5" x2="215.8" y2="1128.5" stroke="#262626" stroke-width="1.6"/>
<line x1="185.1" y1="1119.5" x2="215.8" y2="1119.5" stroke="#000" stroke-width="1.1"/>
<circle cx="201.2" cy="1119.5" r="6" fill="#0fce0f"/>
<text x="225.5" y="1126.6" font-size="19.4">control</text>
<line x1="200.7" y1="1133.6" x2="200.7" y2="1152.1" stroke="#262626" stroke-width="1.1"/>
<line x1="185.1" y1="1133.6" x2="215.8" y2="1133.6" stroke="#262626" stroke-width="1.6"/>
<line x1="185.1" y1="1152.1" x2="215.8" y2="1152.1" stroke="#262626" stroke-width="1.6"/>
<line x1="185.1" y1="1142.9" x2="215.8" y2="1142.9" stroke="#000" stroke-width="1.1"/>
<path d="M200.7 1138.1L206.2 1148.3L195.2 1148.3Z" fill="#ff0000"/>
<text x="225.5" y="1149.9" font-size="19.4">AAV9</text>
<line x1="315.9" y1="1306.8" x2="315.9" y2="1324.2" stroke="#262626" stroke-width="1.25"/>
<line x1="312.15" y1="1306.8" x2="319.65" y2="1306.8" stroke="#262626" stroke-width="1.6"/>
<line x1="312.15" y1="1324.2" x2="319.65" y2="1324.2" stroke="#262626" stroke-width="1.6"/>
<line x1="388.8" y1="1196.4" x2="388.8" y2="1268.9" stroke="#262626" stroke-width="1.25"/>
<line x1="385.05" y1="1196.4" x2="392.55" y2="1196.4" stroke="#262626" stroke-width="1.6"/>
<line x1="385.05" y1="1268.9" x2="392.55" y2="1268.9" stroke="#262626" stroke-width="1.6"/>
<line x1="461.4" y1="1093" x2="461.4" y2="1158" stroke="#262626" stroke-width="1.25"/>
<line x1="457.65" y1="1093" x2="465.15" y2="1093" stroke="#262626" stroke-width="1.6"/>
<line x1="457.65" y1="1158" x2="465.15" y2="1158" stroke="#262626" stroke-width="1.6"/>
<line x1="534.2" y1="1095.5" x2="534.2" y2="1142.3" stroke="#262626" stroke-width="1.25"/>
<line x1="530.45" y1="1095.5" x2="537.95" y2="1095.5" stroke="#262626" stroke-width="1.6"/>
<line x1="530.45" y1="1142.3" x2="537.95" y2="1142.3" stroke="#262626" stroke-width="1.6"/>
<line x1="607" y1="1108.6" x2="607" y2="1163.2" stroke="#262626" stroke-width="1.25"/>
<line x1="603.25" y1="1108.6" x2="610.75" y2="1108.6" stroke="#262626" stroke-width="1.6"/>
<line x1="603.25" y1="1163.2" x2="610.75" y2="1163.2" stroke="#262626" stroke-width="1.6"/>
<circle cx="170.2" cy="1320.4" r="5.8" fill="#0a5fe0"/>
<circle cx="243.2" cy="1320.4" r="5.8" fill="#0a5fe0"/>
<circle cx="315.9" cy="1316.6" r="5.8" fill="#0a5fe0"/>
<circle cx="388.8" cy="1233.4" r="5.8" fill="#0a5fe0"/>
<circle cx="461.4" cy="1126.1" r="5.8" fill="#0a5fe0"/>
<circle cx="534.2" cy="1119.7" r="5.8" fill="#0a5fe0"/>
<circle cx="607" cy="1135.9" r="5.8" fill="#0a5fe0"/>
<polyline points="170.2,1320.4 243.2,1320.4 315.9,1316.6 388.8,1233.4 461.4,1126.1 534.2,1119.7 607,1135.9" fill="none" stroke="#000" stroke-width="1.25" stroke-linejoin="round"/>
<line x1="326.8" y1="1288.7" x2="326.8" y2="1306.1" stroke="#262626" stroke-width="1.25"/>
<line x1="323.05" y1="1288.7" x2="330.55" y2="1288.7" stroke="#262626" stroke-width="1.6"/>
<line x1="323.05" y1="1306.1" x2="330.55" y2="1306.1" stroke="#262626" stroke-width="1.6"/>
<line x1="399.7" y1="1192" x2="399.7" y2="1264.3" stroke="#262626" stroke-width="1.25"/>
<line x1="395.95" y1="1192" x2="403.45" y2="1192" stroke="#262626" stroke-width="1.6"/>
<line x1="395.95" y1="1264.3" x2="403.45" y2="1264.3" stroke="#262626" stroke-width="1.6"/>
<line x1="472.1" y1="1035.4" x2="472.1" y2="1100.4" stroke="#262626" stroke-width="1.25"/>
<line x1="468.35" y1="1035.4" x2="475.85" y2="1035.4" stroke="#262626" stroke-width="1.6"/>
<line x1="468.35" y1="1100.4" x2="475.85" y2="1100.4" stroke="#262626" stroke-width="1.6"/>
<line x1="544.9" y1="1024.6" x2="544.9" y2="1071.5" stroke="#262626" stroke-width="1.25"/>
<line x1="541.15" y1="1024.6" x2="548.65" y2="1024.6" stroke="#262626" stroke-width="1.6"/>
<line x1="541.15" y1="1071.5" x2="548.65" y2="1071.5" stroke="#262626" stroke-width="1.6"/>
<line x1="617.7" y1="1087.5" x2="617.7" y2="1142.7" stroke="#262626" stroke-width="1.25"/>
<line x1="613.95" y1="1087.5" x2="621.45" y2="1087.5" stroke="#262626" stroke-width="1.6"/>
<line x1="613.95" y1="1142.7" x2="621.45" y2="1142.7" stroke="#262626" stroke-width="1.6"/>
<circle cx="181.1" cy="1320.4" r="5.8" fill="#0fce0f"/>
<circle cx="253.9" cy="1320.4" r="5.8" fill="#0fce0f"/>
<circle cx="326.8" cy="1298" r="5.8" fill="#0fce0f"/>
<circle cx="399.7" cy="1228.4" r="5.8" fill="#0fce0f"/>
<circle cx="472.1" cy="1068.6" r="5.8" fill="#0fce0f"/>
<circle cx="544.9" cy="1049" r="5.8" fill="#0fce0f"/>
<circle cx="617.7" cy="1115.4" r="5.8" fill="#0fce0f"/>
<polyline points="181.1,1320.4 253.9,1320.4 326.8,1298 399.7,1228.4 472.1,1068.6 544.9,1049 617.7,1115.4" fill="none" stroke="#000" stroke-width="1.25" stroke-linejoin="round"/>
<line x1="337.2" y1="1311.1" x2="337.2" y2="1329" stroke="#262626" stroke-width="1.25"/>
<line x1="333.45" y1="1311.1" x2="340.95" y2="1311.1" stroke="#262626" stroke-width="1.6"/>
<line x1="333.45" y1="1329" x2="340.95" y2="1329" stroke="#262626" stroke-width="1.6"/>
<line x1="409.7" y1="1276.7" x2="409.7" y2="1349.2" stroke="#262626" stroke-width="1.25"/>
<line x1="405.95" y1="1276.7" x2="413.45" y2="1276.7" stroke="#262626" stroke-width="1.6"/>
<line x1="405.95" y1="1349.2" x2="413.45" y2="1349.2" stroke="#262626" stroke-width="1.6"/>
<line x1="482.9" y1="1144.7" x2="482.9" y2="1210.1" stroke="#262626" stroke-width="1.25"/>
<line x1="479.15" y1="1144.7" x2="486.65" y2="1144.7" stroke="#262626" stroke-width="1.6"/>
<line x1="479.15" y1="1210.1" x2="486.65" y2="1210.1" stroke="#262626" stroke-width="1.6"/>
<line x1="555.7" y1="1140.4" x2="555.7" y2="1187" stroke="#262626" stroke-width="1.25"/>
<line x1="551.95" y1="1140.4" x2="559.45" y2="1140.4" stroke="#262626" stroke-width="1.6"/>
<line x1="551.95" y1="1187" x2="559.45" y2="1187" stroke="#262626" stroke-width="1.6"/>
<line x1="628.5" y1="1080.9" x2="628.5" y2="1135.9" stroke="#262626" stroke-width="1.25"/>
<line x1="624.75" y1="1080.9" x2="632.25" y2="1080.9" stroke="#262626" stroke-width="1.6"/>
<line x1="624.75" y1="1135.9" x2="632.25" y2="1135.9" stroke="#262626" stroke-width="1.6"/>
<path d="M191.8 1315.5L197.2 1325.9L186.4 1325.9Z" fill="#ff0000"/>
<path d="M264.3 1315.5L269.7 1325.9L258.9 1325.9Z" fill="#ff0000"/>
<path d="M337.2 1315.1L342.6 1325.5L331.8 1325.5Z" fill="#ff0000"/>
<path d="M409.7 1308.1L415.1 1318.5L404.3 1318.5Z" fill="#ff0000"/>
<path d="M482.9 1172.6L488.3 1183L477.5 1183Z" fill="#ff0000"/>
<path d="M555.7 1158.8L561.1 1169.2L550.3 1169.2Z" fill="#ff0000"/>
<path d="M628.5 1103.5L633.9 1113.9L623.1 1113.9Z" fill="#ff0000"/>
<polyline points="191.8,1320.4 264.3,1320.4 337.2,1320 409.7,1313 482.9,1177.5 555.7,1163.7 628.5,1108.4" fill="none" stroke="#000" stroke-width="1.25" stroke-linejoin="round"/>
<line x1="107.7" y1="1473.8" x2="677.9" y2="1473.8" stroke="#3c3c3c" stroke-width="1.5"/>
<line x1="107.7" y1="1909.9" x2="677.9" y2="1909.9" stroke="#3c3c3c" stroke-width="1.5"/>
<line x1="107.7" y1="1473.05" x2="107.7" y2="1910.65" stroke="#3c3c3c" stroke-width="1.5"/>
<text x="98.6" y="1916.87" font-size="20.5" text-anchor="end">-0.1</text>
<line x1="107.7" y1="1873.56" x2="110.7" y2="1873.56" stroke="#3c3c3c" stroke-width="1.2"/>
<text x="98.6" y="1880.53" font-size="20.5" text-anchor="end">0.0</text>
<line x1="107.7" y1="1837.22" x2="110.7" y2="1837.22" stroke="#3c3c3c" stroke-width="1.2"/>
<text x="98.6" y="1844.19" font-size="20.5" text-anchor="end">0.1</text>
<line x1="107.7" y1="1800.88" x2="110.7" y2="1800.88" stroke="#3c3c3c" stroke-width="1.2"/>
<text x="98.6" y="1807.85" font-size="20.5" text-anchor="end">0.2</text>
<line x1="107.7" y1="1764.53" x2="110.7" y2="1764.53" stroke="#3c3c3c" stroke-width="1.2"/>
<text x="98.6" y="1771.5" font-size="20.5" text-anchor="end">0.3</text>
<line x1="107.7" y1="1728.19" x2="110.7" y2="1728.19" stroke="#3c3c3c" stroke-width="1.2"/>
<text x="98.6" y="1735.16" font-size="20.5" text-anchor="end">0.4</text>
<line x1="107.7" y1="1691.85" x2="110.7" y2="1691.85" stroke="#3c3c3c" stroke-width="1.2"/>
<text x="98.6" y="1698.82" font-size="20.5" text-anchor="end">0.5</text>
<line x1="107.7" y1="1655.51" x2="110.7" y2="1655.51" stroke="#3c3c3c" stroke-width="1.2"/>
<text x="98.6" y="1662.48" font-size="20.5" text-anchor="end">0.6</text>
<line x1="107.7" y1="1619.17" x2="110.7" y2="1619.17" stroke="#3c3c3c" stroke-width="1.2"/>
<text x="98.6" y="1626.14" font-size="20.5" text-anchor="end">0.7</text>
<line x1="107.7" y1="1582.83" x2="110.7" y2="1582.83" stroke="#3c3c3c" stroke-width="1.2"/>
<text x="98.6" y="1589.8" font-size="20.5" text-anchor="end">0.8</text>
<line x1="107.7" y1="1546.48" x2="110.7" y2="1546.48" stroke="#3c3c3c" stroke-width="1.2"/>
<text x="98.6" y="1553.45" font-size="20.5" text-anchor="end">0.9</text>
<line x1="107.7" y1="1510.14" x2="110.7" y2="1510.14" stroke="#3c3c3c" stroke-width="1.2"/>
<text x="98.6" y="1517.11" font-size="20.5" text-anchor="end">1.0</text>
<text x="98.6" y="1480.77" font-size="20.5" text-anchor="end">1.1</text>
<line x1="184.2" y1="1473.8" x2="184.2" y2="1476.8" stroke="#3c3c3c" stroke-width="1.2"/>
<line x1="184.2" y1="1909.9" x2="184.2" y2="1906.9" stroke="#3c3c3c" stroke-width="1.2"/>
<text x="184.2" y="1937.5" font-size="20.3" text-anchor="middle">D5</text>
<line x1="261.05" y1="1473.8" x2="261.05" y2="1476.8" stroke="#3c3c3c" stroke-width="1.2"/>
<line x1="261.05" y1="1909.9" x2="261.05" y2="1906.9" stroke="#3c3c3c" stroke-width="1.2"/>
<text x="261.05" y="1937.5" font-size="20.3" text-anchor="middle">D8</text>
<line x1="337.9" y1="1473.8" x2="337.9" y2="1476.8" stroke="#3c3c3c" stroke-width="1.2"/>
<line x1="337.9" y1="1909.9" x2="337.9" y2="1906.9" stroke="#3c3c3c" stroke-width="1.2"/>
<text x="337.9" y="1937.5" font-size="20.3" text-anchor="middle">D10</text>
<line x1="414.75" y1="1473.8" x2="414.75" y2="1476.8" stroke="#3c3c3c" stroke-width="1.2"/>
<line x1="414.75" y1="1909.9" x2="414.75" y2="1906.9" stroke="#3c3c3c" stroke-width="1.2"/>
<text x="414.75" y="1937.5" font-size="20.3" text-anchor="middle">D12</text>
<line x1="491.6" y1="1473.8" x2="491.6" y2="1476.8" stroke="#3c3c3c" stroke-width="1.2"/>
<line x1="491.6" y1="1909.9" x2="491.6" y2="1906.9" stroke="#3c3c3c" stroke-width="1.2"/>
<text x="491.6" y="1937.5" font-size="20.3" text-anchor="middle">D16</text>
<line x1="568.45" y1="1473.8" x2="568.45" y2="1476.8" stroke="#3c3c3c" stroke-width="1.2"/>
<line x1="568.45" y1="1909.9" x2="568.45" y2="1906.9" stroke="#3c3c3c" stroke-width="1.2"/>
<text x="568.45" y="1937.5" font-size="20.3" text-anchor="middle">D18</text>
<line x1="645.3" y1="1473.8" x2="645.3" y2="1476.8" stroke="#3c3c3c" stroke-width="1.2"/>
<line x1="645.3" y1="1909.9" x2="645.3" y2="1906.9" stroke="#3c3c3c" stroke-width="1.2"/>
<text x="645.3" y="1937.5" font-size="20.3" text-anchor="middle">D21</text>
<text x="415.3" y="1970.8" font-size="21.5" text-anchor="middle">DAY</text>
<text x="48" y="1692" font-size="20.6" text-anchor="middle" font-weight="bold" textLength="104.3" lengthAdjust="spacingAndGlyphs" transform="rotate(-90 48 1692)">synchrony</text>
<text x="6.6" y="1459.5" font-size="28.5" font-weight="bold">G.</text>
<line x1="209.6" y1="1614.7" x2="209.6" y2="1634.2" stroke="#262626" stroke-width="1.1"/>
<line x1="193.2" y1="1614.7" x2="225.6" y2="1614.7" stroke="#262626" stroke-width="1.6"/>
<line x1="193.2" y1="1634.2" x2="225.6" y2="1634.2" stroke="#262626" stroke-width="1.6"/>
<line x1="193.2" y1="1624.6" x2="225.6" y2="1624.6" stroke="#000" stroke-width="1.1"/>
<circle cx="210.1" cy="1624.6" r="6.3" fill="#0a5fe0"/>
<text x="235.7" y="1631.8" font-size="20.3" textLength="93.4" lengthAdjust="spacingAndGlyphs">scrambled</text>
<line x1="209.6" y1="1639.4" x2="209.6" y2="1659.1" stroke="#262626" stroke-width="1.1"/>
<line x1="193.2" y1="1639.4" x2="225.6" y2="1639.4" stroke="#262626" stroke-width="1.6"/>
<line x1="193.2" y1="1659.1" x2="225.6" y2="1659.1" stroke="#262626" stroke-width="1.6"/>
<line x1="193.2" y1="1649.2" x2="225.6" y2="1649.2" stroke="#000" stroke-width="1.1"/>
<circle cx="210.1" cy="1649.2" r="6.3" fill="#0fce0f"/>
<text x="235.7" y="1656.2" font-size="20.3">control</text>
<line x1="209.6" y1="1664.5" x2="209.6" y2="1683.7" stroke="#262626" stroke-width="1.1"/>
<line x1="193.2" y1="1664.5" x2="225.6" y2="1664.5" stroke="#262626" stroke-width="1.6"/>
<line x1="193.2" y1="1683.7" x2="225.6" y2="1683.7" stroke="#262626" stroke-width="1.6"/>
<line x1="193.2" y1="1674.1" x2="225.6" y2="1674.1" stroke="#000" stroke-width="1.1"/>
<path d="M209.6 1669L215.3 1679.8L203.9 1679.8Z" fill="#ff0000"/>
<text x="235.7" y="1681.4" font-size="20.3">AAV9</text>
<line x1="480" y1="1736.3" x2="480" y2="1761.5" stroke="#262626" stroke-width="1.25"/>
<line x1="476" y1="1736.3" x2="484" y2="1736.3" stroke="#262626" stroke-width="1.6"/>
<line x1="476" y1="1761.5" x2="484" y2="1761.5" stroke="#262626" stroke-width="1.6"/>
<line x1="557.1" y1="1643.5" x2="557.1" y2="1668.7" stroke="#262626" stroke-width="1.25"/>
<line x1="553.1" y1="1643.5" x2="561.1" y2="1643.5" stroke="#262626" stroke-width="1.6"/>
<line x1="553.1" y1="1668.7" x2="561.1" y2="1668.7" stroke="#262626" stroke-width="1.6"/>
<line x1="634.2" y1="1605.7" x2="634.2" y2="1642.1" stroke="#262626" stroke-width="1.25"/>
<line x1="630.2" y1="1605.7" x2="638.2" y2="1605.7" stroke="#262626" stroke-width="1.6"/>
<line x1="630.2" y1="1642.1" x2="638.2" y2="1642.1" stroke="#262626" stroke-width="1.6"/>
<circle cx="173.2" cy="1873.4" r="6.3" fill="#0a5fe0"/>
<circle cx="250.2" cy="1872.3" r="6.3" fill="#0a5fe0"/>
<circle cx="327.3" cy="1868.9" r="6.3" fill="#0a5fe0"/>
<circle cx="403.4" cy="1863.3" r="6.3" fill="#0a5fe0"/>
<circle cx="480" cy="1749.5" r="6.3" fill="#0a5fe0"/>
<circle cx="557.1" cy="1657.6" r="6.3" fill="#0a5fe0"/>
<circle cx="634.2" cy="1623.7" r="6.3" fill="#0a5fe0"/>
<polyline points="173.2,1873.4 250.2,1872.3 327.3,1868.9 403.4,1863.3 480,1749.5 557.1,1657.6 634.2,1623.7" fill="none" stroke="#000" stroke-width="1.25" stroke-linejoin="round"/>
<line x1="491.7" y1="1712" x2="491.7" y2="1737.2" stroke="#262626" stroke-width="1.25"/>
<line x1="487.7" y1="1712" x2="495.7" y2="1712" stroke="#262626" stroke-width="1.6"/>
<line x1="487.7" y1="1737.2" x2="495.7" y2="1737.2" stroke="#262626" stroke-width="1.6"/>
<line x1="568.8" y1="1609.3" x2="568.8" y2="1634.5" stroke="#262626" stroke-width="1.25"/>
<line x1="564.8" y1="1609.3" x2="572.8" y2="1609.3" stroke="#262626" stroke-width="1.6"/>
<line x1="564.8" y1="1634.5" x2="572.8" y2="1634.5" stroke="#262626" stroke-width="1.6"/>
<line x1="645.8" y1="1542.3" x2="645.8" y2="1578.3" stroke="#262626" stroke-width="1.25"/>
<line x1="641.8" y1="1542.3" x2="649.8" y2="1542.3" stroke="#262626" stroke-width="1.6"/>
<line x1="641.8" y1="1578.3" x2="649.8" y2="1578.3" stroke="#262626" stroke-width="1.6"/>
<circle cx="184.5" cy="1873.4" r="6.3" fill="#0fce0f"/>
<circle cx="261.9" cy="1870" r="6.3" fill="#0fce0f"/>
<circle cx="338.7" cy="1866.7" r="6.3" fill="#0fce0f"/>
<circle cx="414.6" cy="1862.2" r="6.3" fill="#0fce0f"/>
<circle cx="491.7" cy="1725" r="6.3" fill="#0fce0f"/>
<circle cx="568.8" cy="1622.8" r="6.3" fill="#0fce0f"/>
<circle cx="645.8" cy="1561" r="6.3" fill="#0fce0f"/>
<polyline points="184.5,1873.4 261.9,1870 338.7,1866.7 414.6,1862.2 491.7,1725 568.8,1622.8 645.8,1561" fill="none" stroke="#000" stroke-width="1.25" stroke-linejoin="round"/>
<line x1="503.3" y1="1816.5" x2="503.3" y2="1842" stroke="#262626" stroke-width="1.25"/>
<line x1="499.3" y1="1816.5" x2="507.3" y2="1816.5" stroke="#262626" stroke-width="1.6"/>
<line x1="499.3" y1="1842" x2="507.3" y2="1842" stroke="#262626" stroke-width="1.6"/>
<line x1="580" y1="1706.6" x2="580" y2="1732.2" stroke="#262626" stroke-width="1.25"/>
<line x1="576" y1="1706.6" x2="584" y2="1706.6" stroke="#262626" stroke-width="1.6"/>
<line x1="576" y1="1732.2" x2="584" y2="1732.2" stroke="#262626" stroke-width="1.6"/>
<line x1="657.1" y1="1593.4" x2="657.1" y2="1630" stroke="#262626" stroke-width="1.25"/>
<line x1="653.1" y1="1593.4" x2="661.1" y2="1593.4" stroke="#262626" stroke-width="1.6"/>
<line x1="653.1" y1="1630" x2="661.1" y2="1630" stroke="#262626" stroke-width="1.6"/>
<path d="M195.7 1868.2L201.7 1879.2L189.7 1879.2Z" fill="#ff0000"/>
<path d="M272.7 1868.2L278.7 1879.2L266.7 1879.2Z" fill="#ff0000"/>
<path d="M349.8 1867.3L355.8 1878.3L343.8 1878.3Z" fill="#ff0000"/>
<path d="M425.9 1863.8L431.9 1874.8L419.9 1874.8Z" fill="#ff0000"/>
<path d="M503.3 1823.9L509.3 1834.9L497.3 1834.9Z" fill="#ff0000"/>
<path d="M580 1714.3L586 1725.3L574 1725.3Z" fill="#ff0000"/>
<path d="M657.1 1606.5L663.1 1617.5L651.1 1617.5Z" fill="#ff0000"/>
<polyline points="195.7,1873.4 272.7,1873.4 349.8,1872.5 425.9,1869 503.3,1829.1 580,1719.5 657.1,1611.7" fill="none" stroke="#000" stroke-width="1.25" stroke-linejoin="round"/>
<line x1="104" y1="2014" x2="677.9" y2="2014" stroke="#383838" stroke-width="1.5"/>
<line x1="104" y1="2437.5" x2="677.9" y2="2437.5" stroke="#383838" stroke-width="1.5"/>
<line x1="104" y1="2013.25" x2="104" y2="2438.25" stroke="#383838" stroke-width="1.5"/>
<text x="95.4" y="2444.13" font-size="19.5" text-anchor="end">-10</text>
<line x1="104" y1="2402.21" x2="107" y2="2402.21" stroke="#383838" stroke-width="1.2"/>
<text x="95.4" y="2408.84" font-size="19.5" text-anchor="end">0</text>
<line x1="104" y1="2366.92" x2="107" y2="2366.92" stroke="#383838" stroke-width="1.2"/>
<text x="95.4" y="2373.55" font-size="19.5" text-anchor="end">10</text>
<line x1="104" y1="2331.62" x2="107" y2="2331.62" stroke="#383838" stroke-width="1.2"/>
<text x="95.4" y="2338.26" font-size="19.5" text-anchor="end">20</text>
<line x1="104" y1="2296.33" x2="107" y2="2296.33" stroke="#383838" stroke-width="1.2"/>
<text x="95.4" y="2302.96" font-size="19.5" text-anchor="end">30</text>
<line x1="104" y1="2261.04" x2="107" y2="2261.04" stroke="#383838" stroke-width="1.2"/>
<text x="95.4" y="2267.67" font-size="19.5" text-anchor="end">40</text>
<line x1="104" y1="2225.75" x2="107" y2="2225.75" stroke="#383838" stroke-width="1.2"/>
<text x="95.4" y="2232.38" font-size="19.5" text-anchor="end">50</text>
<line x1="104" y1="2190.46" x2="107" y2="2190.46" stroke="#383838" stroke-width="1.2"/>
<text x="95.4" y="2197.09" font-size="19.5" text-anchor="end">60</text>
<line x1="104" y1="2155.17" x2="107" y2="2155.17" stroke="#383838" stroke-width="1.2"/>
<text x="95.4" y="2161.8" font-size="19.5" text-anchor="end">70</text>
<line x1="104" y1="2119.88" x2="107" y2="2119.88" stroke="#383838" stroke-width="1.2"/>
<text x="95.4" y="2126.51" font-size="19.5" text-anchor="end">80</text>
<line x1="104" y1="2084.58" x2="107" y2="2084.58" stroke="#383838" stroke-width="1.2"/>
<text x="95.4" y="2091.21" font-size="19.5" text-anchor="end">90</text>
<line x1="104" y1="2049.29" x2="107" y2="2049.29" stroke="#383838" stroke-width="1.2"/>
<text x="95.4" y="2055.92" font-size="19.5" text-anchor="end">100</text>
<text x="95.4" y="2020.63" font-size="19.5" text-anchor="end">110</text>
<line x1="178.6" y1="2014" x2="178.6" y2="2017" stroke="#383838" stroke-width="1.2"/>
<line x1="178.6" y1="2437.5" x2="178.6" y2="2434.5" stroke="#383838" stroke-width="1.2"/>
<text x="178.6" y="2463.6" font-size="19.8" text-anchor="middle">D5</text>
<line x1="253.6" y1="2014" x2="253.6" y2="2017" stroke="#383838" stroke-width="1.2"/>
<line x1="253.6" y1="2437.5" x2="253.6" y2="2434.5" stroke="#383838" stroke-width="1.2"/>
<text x="253.6" y="2463.6" font-size="19.8" text-anchor="middle">D8</text>
<line x1="328.6" y1="2014" x2="328.6" y2="2017" stroke="#383838" stroke-width="1.2"/>
<line x1="328.6" y1="2437.5" x2="328.6" y2="2434.5" stroke="#383838" stroke-width="1.2"/>
<text x="328.6" y="2463.6" font-size="19.8" text-anchor="middle">D10</text>
<line x1="403.6" y1="2014" x2="403.6" y2="2017" stroke="#383838" stroke-width="1.2"/>
<line x1="403.6" y1="2437.5" x2="403.6" y2="2434.5" stroke="#383838" stroke-width="1.2"/>
<text x="403.6" y="2463.6" font-size="19.8" text-anchor="middle">D12</text>
<line x1="478.6" y1="2014" x2="478.6" y2="2017" stroke="#383838" stroke-width="1.2"/>
<line x1="478.6" y1="2437.5" x2="478.6" y2="2434.5" stroke="#383838" stroke-width="1.2"/>
<text x="478.6" y="2463.6" font-size="19.8" text-anchor="middle">D16</text>
<line x1="553.6" y1="2014" x2="553.6" y2="2017" stroke="#383838" stroke-width="1.2"/>
<line x1="553.6" y1="2437.5" x2="553.6" y2="2434.5" stroke="#383838" stroke-width="1.2"/>
<text x="553.6" y="2463.6" font-size="19.8" text-anchor="middle">D18</text>
<line x1="628.6" y1="2014" x2="628.6" y2="2017" stroke="#383838" stroke-width="1.2"/>
<line x1="628.6" y1="2437.5" x2="628.6" y2="2434.5" stroke="#383838" stroke-width="1.2"/>
<text x="628.6" y="2463.6" font-size="19.8" text-anchor="middle">D21</text>
<text x="403.6" y="2497" font-size="20.5" text-anchor="middle">DAY</text>
<text x="48.3" y="2225.5" font-size="20" text-anchor="middle" font-weight="bold" textLength="154.4" lengthAdjust="spacingAndGlyphs" transform="rotate(-90 48.3 2225.5)">spikes per burst</text>
<text x="32.1" y="2007.9" font-size="28.5" font-weight="bold">I.</text>
<line x1="212.8" y1="2178" x2="212.8" y2="2197.1" stroke="#262626" stroke-width="1.1"/>
<line x1="197.2" y1="2178" x2="228.7" y2="2178" stroke="#262626" stroke-width="1.6"/>
<line x1="197.2" y1="2197.1" x2="228.7" y2="2197.1" stroke="#262626" stroke-width="1.6"/>
<line x1="197.2" y1="2187.7" x2="228.7" y2="2187.7" stroke="#000" stroke-width="1.1"/>
<circle cx="213.3" cy="2187.7" r="6.1" fill="#0a5fe0"/>
<text x="238.6" y="2195.6" font-size="19.8" textLength="91.3" lengthAdjust="spacingAndGlyphs">scrambled</text>
<line x1="212.8" y1="2202.5" x2="212.8" y2="2221.2" stroke="#262626" stroke-width="1.1"/>
<line x1="197.2" y1="2202.5" x2="228.7" y2="2202.5" stroke="#262626" stroke-width="1.6"/>
<line x1="197.2" y1="2221.2" x2="228.7" y2="2221.2" stroke="#262626" stroke-width="1.6"/>
<line x1="197.2" y1="2211.8" x2="228.7" y2="2211.8" stroke="#000" stroke-width="1.1"/>
<circle cx="213.3" cy="2211.8" r="6.1" fill="#0fce0f"/>
<text x="238.6" y="2219.7" font-size="19.8">control</text>
<line x1="212.8" y1="2226.5" x2="212.8" y2="2245.5" stroke="#262626" stroke-width="1.1"/>
<line x1="197.2" y1="2226.5" x2="228.7" y2="2226.5" stroke="#262626" stroke-width="1.6"/>
<line x1="197.2" y1="2245.5" x2="228.7" y2="2245.5" stroke="#262626" stroke-width="1.6"/>
<line x1="197.2" y1="2235.9" x2="228.7" y2="2235.9" stroke="#000" stroke-width="1.1"/>
<path d="M212.8 2231L218.4 2241.4L207.2 2241.4Z" fill="#ff0000"/>
<text x="238.6" y="2244" font-size="19.8">AAV9</text>
<line x1="467.6" y1="2304.9" x2="467.6" y2="2331" stroke="#262626" stroke-width="1.25"/>
<line x1="463.6" y1="2304.9" x2="471.6" y2="2304.9" stroke="#262626" stroke-width="1.6"/>
<line x1="463.6" y1="2331" x2="471.6" y2="2331" stroke="#262626" stroke-width="1.6"/>
<line x1="542.3" y1="2209.4" x2="542.3" y2="2271.5" stroke="#262626" stroke-width="1.25"/>
<line x1="538.3" y1="2209.4" x2="546.3" y2="2209.4" stroke="#262626" stroke-width="1.6"/>
<line x1="538.3" y1="2271.5" x2="546.3" y2="2271.5" stroke="#262626" stroke-width="1.6"/>
<line x1="617.5" y1="2078.2" x2="617.5" y2="2195.3" stroke="#262626" stroke-width="1.25"/>
<line x1="613.5" y1="2078.2" x2="621.5" y2="2078.2" stroke="#262626" stroke-width="1.6"/>
<line x1="613.5" y1="2195.3" x2="621.5" y2="2195.3" stroke="#262626" stroke-width="1.6"/>
<circle cx="168" cy="2381.1" r="6" fill="#0a5fe0"/>
<circle cx="243" cy="2377.7" r="6" fill="#0a5fe0"/>
<circle cx="317.8" cy="2378.8" r="6" fill="#0a5fe0"/>
<circle cx="392.8" cy="2373.2" r="6" fill="#0a5fe0"/>
<circle cx="467.6" cy="2318.4" r="6" fill="#0a5fe0"/>
<circle cx="542.3" cy="2240.9" r="6" fill="#0a5fe0"/>
<circle cx="617.5" cy="2137.3" r="6" fill="#0a5fe0"/>
<polyline points="168,2381.1 243,2377.7 317.8,2378.8 392.8,2373.2 467.6,2318.4 542.3,2240.9 617.5,2137.3" fill="none" stroke="#000" stroke-width="1.25" stroke-linejoin="round"/>
<line x1="478.7" y1="2330.5" x2="478.7" y2="2357.1" stroke="#262626" stroke-width="1.25"/>
<line x1="474.7" y1="2330.5" x2="482.7" y2="2330.5" stroke="#262626" stroke-width="1.6"/>
<line x1="474.7" y1="2357.1" x2="482.7" y2="2357.1" stroke="#262626" stroke-width="1.6"/>
<line x1="553.5" y1="2248.1" x2="553.5" y2="2310.3" stroke="#262626" stroke-width="1.25"/>
<line x1="549.5" y1="2248.1" x2="557.5" y2="2248.1" stroke="#262626" stroke-width="1.6"/>
<line x1="549.5" y1="2310.3" x2="557.5" y2="2310.3" stroke="#262626" stroke-width="1.6"/>
<line x1="628.8" y1="2057.7" x2="628.8" y2="2174.8" stroke="#262626" stroke-width="1.25"/>
<line x1="624.8" y1="2057.7" x2="632.8" y2="2057.7" stroke="#262626" stroke-width="1.6"/>
<line x1="624.8" y1="2174.8" x2="632.8" y2="2174.8" stroke="#262626" stroke-width="1.6"/>
<circle cx="179.3" cy="2383.3" r="6" fill="#0fce0f"/>
<circle cx="254.3" cy="2377.7" r="6" fill="#0fce0f"/>
<circle cx="329" cy="2377.7" r="6" fill="#0fce0f"/>
<circle cx="404" cy="2376.6" r="6" fill="#0fce0f"/>
<circle cx="478.7" cy="2344.1" r="6" fill="#0fce0f"/>
<circle cx="553.5" cy="2279.6" r="6" fill="#0fce0f"/>
<circle cx="628.8" cy="2117.1" r="6" fill="#0fce0f"/>
<polyline points="179.3,2383.3 254.3,2377.7 329,2377.7 404,2376.6 478.7,2344.1 553.5,2279.6 628.8,2117.1" fill="none" stroke="#000" stroke-width="1.25" stroke-linejoin="round"/>
<line x1="264.9" y1="2375" x2="264.9" y2="2381" stroke="#262626" stroke-width="1.25"/>
<line x1="260.9" y1="2375" x2="268.9" y2="2375" stroke="#262626" stroke-width="1.6"/>
<line x1="260.9" y1="2381" x2="268.9" y2="2381" stroke="#262626" stroke-width="1.6"/>
<line x1="489.5" y1="2349.9" x2="489.5" y2="2378.7" stroke="#262626" stroke-width="1.25"/>
<line x1="485.5" y1="2349.9" x2="493.5" y2="2349.9" stroke="#262626" stroke-width="1.6"/>
<line x1="485.5" y1="2378.7" x2="493.5" y2="2378.7" stroke="#262626" stroke-width="1.6"/>
<line x1="564.3" y1="2293.2" x2="564.3" y2="2364.7" stroke="#262626" stroke-width="1.25"/>
<line x1="560.3" y1="2293.2" x2="568.3" y2="2293.2" stroke="#262626" stroke-width="1.6"/>
<line x1="560.3" y1="2364.7" x2="568.3" y2="2364.7" stroke="#262626" stroke-width="1.6"/>
<line x1="639.6" y1="2104" x2="639.6" y2="2239.1" stroke="#262626" stroke-width="1.25"/>
<line x1="635.6" y1="2104" x2="643.6" y2="2104" stroke="#262626" stroke-width="1.6"/>
<line x1="635.6" y1="2239.1" x2="643.6" y2="2239.1" stroke="#262626" stroke-width="1.6"/>
<path d="M190.1 2377.6L195.85 2388.6L184.35 2388.6Z" fill="#ff0000"/>
<path d="M264.9 2372.6L270.65 2383.6L259.15 2383.6Z" fill="#ff0000"/>
<path d="M339.9 2373.8L345.65 2384.8L334.15 2384.8Z" fill="#ff0000"/>
<path d="M415.1 2375.3L420.85 2386.3L409.35 2386.3Z" fill="#ff0000"/>
<path d="M489.5 2358.6L495.25 2369.6L483.75 2369.6Z" fill="#ff0000"/>
<path d="M564.3 2323.1L570.05 2334.1L558.55 2334.1Z" fill="#ff0000"/>
<path d="M639.6 2166.3L645.35 2177.3L633.85 2177.3Z" fill="#ff0000"/>
<polyline points="190.1,2382.8 264.9,2377.8 339.9,2379 415.1,2380.5 489.5,2363.8 564.3,2328.3 639.6,2171.5" fill="none" stroke="#000" stroke-width="1.25" stroke-linejoin="round"/>
<rect x="823.8" y="46.8" width="503.9" height="373" fill="none" stroke="#606060" stroke-width="1.5"/>
<text x="817.6" y="425.47" font-size="16.2" text-anchor="end" transform="translate(0 -12.76) scale(1 1.03)">0.30</text>
<line x1="823.8" y1="378.36" x2="826.8" y2="378.36" stroke="#606060" stroke-width="1.2"/>
<line x1="1327.7" y1="378.36" x2="1324.7" y2="378.36" stroke="#606060" stroke-width="1.2"/>
<text x="817.6" y="384.03" font-size="16.2" text-anchor="end" transform="translate(0 -11.52) scale(1 1.03)">0.32</text>
<line x1="823.8" y1="336.91" x2="826.8" y2="336.91" stroke="#606060" stroke-width="1.2"/>
<line x1="1327.7" y1="336.91" x2="1324.7" y2="336.91" stroke="#606060" stroke-width="1.2"/>
<text x="817.6" y="342.58" font-size="16.2" text-anchor="end" transform="translate(0 -10.28) scale(1 1.03)">0.34</text>
<line x1="823.8" y1="295.47" x2="826.8" y2="295.47" stroke="#606060" stroke-width="1.2"/>
<line x1="1327.7" y1="295.47" x2="1324.7" y2="295.47" stroke="#606060" stroke-width="1.2"/>
<text x="817.6" y="301.14" font-size="16.2" text-anchor="end" transform="translate(0 -9.03) scale(1 1.03)">0.36</text>
<line x1="823.8" y1="254.02" x2="826.8" y2="254.02" stroke="#606060" stroke-width="1.2"/>
<line x1="1327.7" y1="254.02" x2="1324.7" y2="254.02" stroke="#606060" stroke-width="1.2"/>
<text x="817.6" y="259.7" font-size="16.2" text-anchor="end" transform="translate(0 -7.79) scale(1 1.03)">0.38</text>
<line x1="823.8" y1="212.58" x2="826.8" y2="212.58" stroke="#606060" stroke-width="1.2"/>
<line x1="1327.7" y1="212.58" x2="1324.7" y2="212.58" stroke="#606060" stroke-width="1.2"/>
<text x="817.6" y="218.25" font-size="16.2" text-anchor="end" transform="translate(0 -6.55) scale(1 1.03)">0.40</text>
<line x1="823.8" y1="171.13" x2="826.8" y2="171.13" stroke="#606060" stroke-width="1.2"/>
<line x1="1327.7" y1="171.13" x2="1324.7" y2="171.13" stroke="#606060" stroke-width="1.2"/>
<text x="817.6" y="176.81" font-size="16.2" text-anchor="end" transform="translate(0 -5.3) scale(1 1.03)">0.42</text>
<line x1="823.8" y1="129.69" x2="826.8" y2="129.69" stroke="#606060" stroke-width="1.2"/>
<line x1="1327.7" y1="129.69" x2="1324.7" y2="129.69" stroke="#606060" stroke-width="1.2"/>
<text x="817.6" y="135.36" font-size="16.2" text-anchor="end" transform="translate(0 -4.06) scale(1 1.03)">0.44</text>
<line x1="823.8" y1="88.24" x2="826.8" y2="88.24" stroke="#606060" stroke-width="1.2"/>
<line x1="1327.7" y1="88.24" x2="1324.7" y2="88.24" stroke="#606060" stroke-width="1.2"/>
<text x="817.6" y="93.92" font-size="16.2" text-anchor="end" transform="translate(0 -2.82) scale(1 1.03)">0.46</text>
<text x="817.6" y="52.47" font-size="16.2" text-anchor="end" transform="translate(0 -1.57) scale(1 1.03)">0.48</text>
<line x1="950" y1="46.8" x2="950" y2="49.8" stroke="#606060" stroke-width="1.2"/>
<line x1="950" y1="419.8" x2="950" y2="416.8" stroke="#606060" stroke-width="1.2"/>
<text x="950" y="441.1" font-size="15.8" text-anchor="middle" transform="translate(0 -22.06) scale(1 1.05)">scrambled</text>
<line x1="1075.8" y1="46.8" x2="1075.8" y2="49.8" stroke="#606060" stroke-width="1.2"/>
<line x1="1075.8" y1="419.8" x2="1075.8" y2="416.8" stroke="#606060" stroke-width="1.2"/>
<text x="1075.8" y="441.1" font-size="15.8" text-anchor="middle" transform="translate(0 -22.06) scale(1 1.05)">control</text>
<line x1="1202.3" y1="46.8" x2="1202.3" y2="49.8" stroke="#606060" stroke-width="1.2"/>
<line x1="1202.3" y1="419.8" x2="1202.3" y2="416.8" stroke="#606060" stroke-width="1.2"/>
<text x="1202.3" y="441.1" font-size="15.8" text-anchor="middle" transform="translate(0 -22.06) scale(1 1.05)">AAV9</text>
<text x="775.2" y="233.7" font-size="16.5" text-anchor="middle" font-weight="bold" textLength="249.8" lengthAdjust="spacingAndGlyphs" transform="rotate(-90 775.2 233.7)">mean burst duration (day 12-18)</text>
<text x="738" y="23.1" font-size="28.5" font-weight="bold">B.</text>
<line x1="950" y1="111.4" x2="950" y2="180.3" stroke="#262626" stroke-width="1.25"/>
<line x1="944" y1="111.4" x2="956" y2="111.4" stroke="#262626" stroke-width="1.35"/>
<line x1="944" y1="180.3" x2="956" y2="180.3" stroke="#262626" stroke-width="1.35"/>
<line x1="1075.8" y1="121.9" x2="1075.8" y2="190.7" stroke="#262626" stroke-width="1.25"/>
<line x1="1069.8" y1="121.9" x2="1081.8" y2="121.9" stroke="#262626" stroke-width="1.35"/>
<line x1="1069.8" y1="190.7" x2="1081.8" y2="190.7" stroke="#262626" stroke-width="1.35"/>
<line x1="1202.3" y1="307.9" x2="1202.3" y2="377" stroke="#262626" stroke-width="1.25"/>
<line x1="1196.3" y1="307.9" x2="1208.3" y2="307.9" stroke="#262626" stroke-width="1.35"/>
<line x1="1196.3" y1="377" x2="1208.3" y2="377" stroke="#262626" stroke-width="1.35"/>
<circle cx="950" cy="146.3" r="4.7" fill="#1583fb"/>
<circle cx="1075.8" cy="156.2" r="4.7" fill="#1583fb"/>
<circle cx="1202.3" cy="342.6" r="4.7" fill="#1583fb"/>
<path d="M1217.8 159.1 C1235.56 159.1 1247.1 159.7 1250.1 161.9 L1250.1 246.6 M1250.1 272.1 L1250.1 342.6 C1247.1 344.8 1235.56 345.4 1217.8 345.4" stroke="#000" stroke-width="1.7" fill="none"/>
<text x="1246.2" y="265.9" font-size="20" text-anchor="middle" stroke="#000" stroke-width="0.3">***</text>
<rect x="805.4" y="492.3" width="523.2" height="402.6" fill="none" stroke="#2c2c2c" stroke-width="1.5"/>
<text x="797.8" y="901.03" font-size="17.5" text-anchor="end" transform="translate(0 -27.03) scale(1 1.03)">9.5</text>
<line x1="805.4" y1="858.3" x2="808.4" y2="858.3" stroke="#2c2c2c" stroke-width="1.2"/>
<line x1="1328.6" y1="858.3" x2="1325.6" y2="858.3" stroke="#2c2c2c" stroke-width="1.2"/>
<text x="797.8" y="864.43" font-size="17.5" text-anchor="end" transform="translate(0 -25.93) scale(1 1.03)">10.0</text>
<line x1="805.4" y1="821.7" x2="808.4" y2="821.7" stroke="#2c2c2c" stroke-width="1.2"/>
<line x1="1328.6" y1="821.7" x2="1325.6" y2="821.7" stroke="#2c2c2c" stroke-width="1.2"/>
<text x="797.8" y="827.83" font-size="17.5" text-anchor="end" transform="translate(0 -24.83) scale(1 1.03)">10.5</text>
<line x1="805.4" y1="785.1" x2="808.4" y2="785.1" stroke="#2c2c2c" stroke-width="1.2"/>
<line x1="1328.6" y1="785.1" x2="1325.6" y2="785.1" stroke="#2c2c2c" stroke-width="1.2"/>
<text x="797.8" y="791.23" font-size="17.5" text-anchor="end" transform="translate(0 -23.74) scale(1 1.03)">11.0</text>
<line x1="805.4" y1="748.5" x2="808.4" y2="748.5" stroke="#2c2c2c" stroke-width="1.2"/>
<line x1="1328.6" y1="748.5" x2="1325.6" y2="748.5" stroke="#2c2c2c" stroke-width="1.2"/>
<text x="797.8" y="754.63" font-size="17.5" text-anchor="end" transform="translate(0 -22.64) scale(1 1.03)">11.5</text>
<line x1="805.4" y1="711.9" x2="808.4" y2="711.9" stroke="#2c2c2c" stroke-width="1.2"/>
<line x1="1328.6" y1="711.9" x2="1325.6" y2="711.9" stroke="#2c2c2c" stroke-width="1.2"/>
<text x="797.8" y="718.03" font-size="17.5" text-anchor="end" transform="translate(0 -21.54) scale(1 1.03)">12.0</text>
<line x1="805.4" y1="675.3" x2="808.4" y2="675.3" stroke="#2c2c2c" stroke-width="1.2"/>
<line x1="1328.6" y1="675.3" x2="1325.6" y2="675.3" stroke="#2c2c2c" stroke-width="1.2"/>
<text x="797.8" y="681.43" font-size="17.5" text-anchor="end" transform="translate(0 -20.44) scale(1 1.03)">12.5</text>
<line x1="805.4" y1="638.7" x2="808.4" y2="638.7" stroke="#2c2c2c" stroke-width="1.2"/>
<line x1="1328.6" y1="638.7" x2="1325.6" y2="638.7" stroke="#2c2c2c" stroke-width="1.2"/>
<text x="797.8" y="644.83" font-size="17.5" text-anchor="end" transform="translate(0 -19.34) scale(1 1.03)">13.0</text>
<line x1="805.4" y1="602.1" x2="808.4" y2="602.1" stroke="#2c2c2c" stroke-width="1.2"/>
<line x1="1328.6" y1="602.1" x2="1325.6" y2="602.1" stroke="#2c2c2c" stroke-width="1.2"/>
<text x="797.8" y="608.23" font-size="17.5" text-anchor="end" transform="translate(0 -18.25) scale(1 1.03)">13.5</text>
<line x1="805.4" y1="565.5" x2="808.4" y2="565.5" stroke="#2c2c2c" stroke-width="1.2"/>
<line x1="1328.6" y1="565.5" x2="1325.6" y2="565.5" stroke="#2c2c2c" stroke-width="1.2"/>
<text x="797.8" y="571.63" font-size="17.5" text-anchor="end" transform="translate(0 -17.15) scale(1 1.03)">14.0</text>
<line x1="805.4" y1="528.9" x2="808.4" y2="528.9" stroke="#2c2c2c" stroke-width="1.2"/>
<line x1="1328.6" y1="528.9" x2="1325.6" y2="528.9" stroke="#2c2c2c" stroke-width="1.2"/>
<text x="797.8" y="535.03" font-size="17.5" text-anchor="end" transform="translate(0 -16.05) scale(1 1.03)">14.5</text>
<text x="797.8" y="498.43" font-size="17.5" text-anchor="end" transform="translate(0 -14.95) scale(1 1.03)">15.0</text>
<line x1="936.3" y1="492.3" x2="936.3" y2="495.3" stroke="#2c2c2c" stroke-width="1.2"/>
<line x1="936.3" y1="894.9" x2="936.3" y2="891.9" stroke="#2c2c2c" stroke-width="1.2"/>
<text x="936.3" y="918.4" font-size="17.4" text-anchor="middle" transform="translate(0 -73.47) scale(1 1.08)">scrambled</text>
<line x1="1066.8" y1="492.3" x2="1066.8" y2="495.3" stroke="#2c2c2c" stroke-width="1.2"/>
<line x1="1066.8" y1="894.9" x2="1066.8" y2="891.9" stroke="#2c2c2c" stroke-width="1.2"/>
<text x="1066.8" y="918.4" font-size="17.4" text-anchor="middle" transform="translate(0 -73.47) scale(1 1.08)">control</text>
<line x1="1197.8" y1="492.3" x2="1197.8" y2="495.3" stroke="#2c2c2c" stroke-width="1.2"/>
<line x1="1197.8" y1="894.9" x2="1197.8" y2="891.9" stroke="#2c2c2c" stroke-width="1.2"/>
<text x="1197.8" y="918.4" font-size="17.4" text-anchor="middle" transform="translate(0 -73.47) scale(1 1.08)">AAV9</text>
<text x="751.7" y="693.7" font-size="17.8" text-anchor="middle" font-weight="bold" textLength="232.3" lengthAdjust="spacingAndGlyphs" transform="rotate(-90 751.7 693.7)">burst frequency (day 12-18)</text>
<text x="731.7" y="457" font-size="28.5" font-weight="bold">D.</text>
<line x1="936.3" y1="616.2" x2="936.3" y2="716.2" stroke="#262626" stroke-width="1.25"/>
<line x1="929.8" y1="616.2" x2="942.8" y2="616.2" stroke="#262626" stroke-width="1.35"/>
<line x1="929.8" y1="716.2" x2="942.8" y2="716.2" stroke="#262626" stroke-width="1.35"/>
<line x1="1066.8" y1="552" x2="1066.8" y2="652.1" stroke="#262626" stroke-width="1.25"/>
<line x1="1060.3" y1="552" x2="1073.3" y2="552" stroke="#262626" stroke-width="1.35"/>
<line x1="1060.3" y1="652.1" x2="1073.3" y2="652.1" stroke="#262626" stroke-width="1.35"/>
<line x1="1197.8" y1="762.6" x2="1197.8" y2="862.8" stroke="#262626" stroke-width="1.25"/>
<line x1="1191.3" y1="762.6" x2="1204.3" y2="762.6" stroke="#262626" stroke-width="1.35"/>
<line x1="1191.3" y1="862.8" x2="1204.3" y2="862.8" stroke="#262626" stroke-width="1.35"/>
<circle cx="936.3" cy="667" r="5.1" fill="#0b62e3"/>
<circle cx="1066.8" cy="602.3" r="5.1" fill="#0b62e3"/>
<circle cx="1197.8" cy="813.5" r="5.1" fill="#0b62e3"/>
<path d="M1212.8 677.3 C1231.28 677.3 1243.4 677.9 1246.4 680.1 L1246.4 729 M1246.4 755.7 L1246.4 809.4 C1243.4 811.6 1231.28 812.2 1212.8 812.2" stroke="#000" stroke-width="1.7" fill="none"/>
<text x="1247.2" y="748.1" font-size="20" text-anchor="middle" stroke="#000" stroke-width="0.3">*</text>
<path d="M1256.1 616 C1274.09 616 1285.8 616.6 1288.8 618.8 L1288.8 729 M1288.8 755.7 L1288.8 809.4 C1285.8 811.6 1274.09 812.2 1256.1 812.2" stroke="#000" stroke-width="1.7" fill="none"/>
<text x="1290" y="748.1" font-size="20" text-anchor="middle" stroke="#000" stroke-width="0.3">**</text>
<rect x="807.2" y="976.3" width="521.5" height="397.1" fill="none" stroke="#505050" stroke-width="1.5"/>
<text x="800.5" y="1379.6" font-size="17.7" text-anchor="end" transform="translate(0 -41.39) scale(1 1.03)">30</text>
<line x1="807.2" y1="1340.31" x2="810.2" y2="1340.31" stroke="#505050" stroke-width="1.2"/>
<line x1="1328.7" y1="1340.31" x2="1325.7" y2="1340.31" stroke="#505050" stroke-width="1.2"/>
<text x="800.5" y="1346.51" font-size="17.7" text-anchor="end" transform="translate(0 -40.4) scale(1 1.03)">40</text>
<line x1="807.2" y1="1307.22" x2="810.2" y2="1307.22" stroke="#505050" stroke-width="1.2"/>
<line x1="1328.7" y1="1307.22" x2="1325.7" y2="1307.22" stroke="#505050" stroke-width="1.2"/>
<text x="800.5" y="1313.42" font-size="17.7" text-anchor="end" transform="translate(0 -39.4) scale(1 1.03)">50</text>
<line x1="807.2" y1="1274.12" x2="810.2" y2="1274.12" stroke="#505050" stroke-width="1.2"/>
<line x1="1328.7" y1="1274.12" x2="1325.7" y2="1274.12" stroke="#505050" stroke-width="1.2"/>
<text x="800.5" y="1280.32" font-size="17.7" text-anchor="end" transform="translate(0 -38.41) scale(1 1.03)">60</text>
<line x1="807.2" y1="1241.03" x2="810.2" y2="1241.03" stroke="#505050" stroke-width="1.2"/>
<line x1="1328.7" y1="1241.03" x2="1325.7" y2="1241.03" stroke="#505050" stroke-width="1.2"/>
<text x="800.5" y="1247.23" font-size="17.7" text-anchor="end" transform="translate(0 -37.42) scale(1 1.03)">70</text>
<line x1="807.2" y1="1207.94" x2="810.2" y2="1207.94" stroke="#505050" stroke-width="1.2"/>
<line x1="1328.7" y1="1207.94" x2="1325.7" y2="1207.94" stroke="#505050" stroke-width="1.2"/>
<text x="800.5" y="1214.14" font-size="17.7" text-anchor="end" transform="translate(0 -36.42) scale(1 1.03)">80</text>
<line x1="807.2" y1="1174.85" x2="810.2" y2="1174.85" stroke="#505050" stroke-width="1.2"/>
<line x1="1328.7" y1="1174.85" x2="1325.7" y2="1174.85" stroke="#505050" stroke-width="1.2"/>
<text x="800.5" y="1181.05" font-size="17.7" text-anchor="end" transform="translate(0 -35.43) scale(1 1.03)">90</text>
<line x1="807.2" y1="1141.76" x2="810.2" y2="1141.76" stroke="#505050" stroke-width="1.2"/>
<line x1="1328.7" y1="1141.76" x2="1325.7" y2="1141.76" stroke="#505050" stroke-width="1.2"/>
<text x="800.5" y="1147.96" font-size="17.7" text-anchor="end" transform="translate(0 -34.44) scale(1 1.03)">100</text>
<line x1="807.2" y1="1108.67" x2="810.2" y2="1108.67" stroke="#505050" stroke-width="1.2"/>
<line x1="1328.7" y1="1108.67" x2="1325.7" y2="1108.67" stroke="#505050" stroke-width="1.2"/>
<text x="800.5" y="1114.87" font-size="17.7" text-anchor="end" transform="translate(0 -33.45) scale(1 1.03)">110</text>
<line x1="807.2" y1="1075.58" x2="810.2" y2="1075.58" stroke="#505050" stroke-width="1.2"/>
<line x1="1328.7" y1="1075.58" x2="1325.7" y2="1075.58" stroke="#505050" stroke-width="1.2"/>
<text x="800.5" y="1081.77" font-size="17.7" text-anchor="end" transform="translate(0 -32.45) scale(1 1.03)">120</text>
<line x1="807.2" y1="1042.48" x2="810.2" y2="1042.48" stroke="#505050" stroke-width="1.2"/>
<line x1="1328.7" y1="1042.48" x2="1325.7" y2="1042.48" stroke="#505050" stroke-width="1.2"/>
<text x="800.5" y="1048.68" font-size="17.7" text-anchor="end" transform="translate(0 -31.46) scale(1 1.03)">130</text>
<line x1="807.2" y1="1009.39" x2="810.2" y2="1009.39" stroke="#505050" stroke-width="1.2"/>
<line x1="1328.7" y1="1009.39" x2="1325.7" y2="1009.39" stroke="#505050" stroke-width="1.2"/>
<text x="800.5" y="1015.59" font-size="17.7" text-anchor="end" transform="translate(0 -30.47) scale(1 1.03)">140</text>
<text x="800.5" y="982.5" font-size="17.7" text-anchor="end" transform="translate(0 -29.47) scale(1 1.03)">150</text>
<line x1="937.5" y1="976.3" x2="937.5" y2="979.3" stroke="#505050" stroke-width="1.2"/>
<line x1="937.5" y1="1373.4" x2="937.5" y2="1370.4" stroke="#505050" stroke-width="1.2"/>
<text x="937.5" y="1396.5" font-size="17.4" text-anchor="middle" transform="translate(0 -111.72) scale(1 1.08)">scrambled</text>
<line x1="1067.7" y1="976.3" x2="1067.7" y2="979.3" stroke="#505050" stroke-width="1.2"/>
<line x1="1067.7" y1="1373.4" x2="1067.7" y2="1370.4" stroke="#505050" stroke-width="1.2"/>
<text x="1067.7" y="1396.5" font-size="17.4" text-anchor="middle" transform="translate(0 -111.72) scale(1 1.08)">control</text>
<line x1="1198.5" y1="976.3" x2="1198.5" y2="979.3" stroke="#505050" stroke-width="1.2"/>
<line x1="1198.5" y1="1373.4" x2="1198.5" y2="1370.4" stroke="#505050" stroke-width="1.2"/>
<text x="1198.5" y="1396.5" font-size="17.4" text-anchor="middle" transform="translate(0 -111.72) scale(1 1.08)">AAV9</text>
<text x="758.6" y="1174.7" font-size="17.4" text-anchor="middle" font-weight="bold" textLength="220.6" lengthAdjust="spacingAndGlyphs" transform="rotate(-90 758.6 1174.7)">network bursts (day 12-18)</text>
<text x="731.4" y="972.9" font-size="28.5" font-weight="bold">F.</text>
<line x1="937.5" y1="1115.2" x2="937.5" y2="1209.2" stroke="#262626" stroke-width="1.25"/>
<line x1="931" y1="1115.2" x2="944" y2="1115.2" stroke="#262626" stroke-width="1.35"/>
<line x1="931" y1="1209.2" x2="944" y2="1209.2" stroke="#262626" stroke-width="1.35"/>
<line x1="1067.7" y1="1029.7" x2="1067.7" y2="1123.6" stroke="#262626" stroke-width="1.25"/>
<line x1="1061.2" y1="1029.7" x2="1074.2" y2="1029.7" stroke="#262626" stroke-width="1.35"/>
<line x1="1061.2" y1="1123.6" x2="1074.2" y2="1123.6" stroke="#262626" stroke-width="1.35"/>
<line x1="1198.5" y1="1229.5" x2="1198.5" y2="1323.4" stroke="#262626" stroke-width="1.25"/>
<line x1="1192" y1="1229.5" x2="1205" y2="1229.5" stroke="#262626" stroke-width="1.35"/>
<line x1="1192" y1="1323.4" x2="1205" y2="1323.4" stroke="#262626" stroke-width="1.35"/>
<circle cx="937.5" cy="1163.4" r="5.1" fill="#0b62e3"/>
<circle cx="1067.7" cy="1077.6" r="5.1" fill="#0b62e3"/>
<circle cx="1198.5" cy="1276.8" r="5.1" fill="#0b62e3"/>
<path d="M1213 1062.2 C1231.37 1062.2 1243.4 1062.8 1246.4 1065 L1246.4 1168.4 M1246.4 1196.2 L1246.4 1274 C1243.4 1276.2 1231.37 1276.8 1213 1276.8" stroke="#000" stroke-width="1.7" fill="none"/>
<text x="1247.2" y="1188.9" font-size="20" text-anchor="middle" stroke="#000" stroke-width="0.3">**</text>
<rect x="807" y="1492.6" width="514.4" height="422.8" fill="none" stroke="#484848" stroke-width="1.5"/>
<text x="800.3" y="1921.63" font-size="17.8" text-anchor="end" transform="translate(0 -57.65) scale(1 1.03)">0.10</text>
<line x1="807" y1="1855" x2="810" y2="1855" stroke="#484848" stroke-width="1.2"/>
<line x1="1321.4" y1="1855" x2="1318.4" y2="1855" stroke="#484848" stroke-width="1.2"/>
<text x="800.3" y="1861.23" font-size="17.8" text-anchor="end" transform="translate(0 -55.84) scale(1 1.03)">0.15</text>
<line x1="807" y1="1794.6" x2="810" y2="1794.6" stroke="#484848" stroke-width="1.2"/>
<line x1="1321.4" y1="1794.6" x2="1318.4" y2="1794.6" stroke="#484848" stroke-width="1.2"/>
<text x="800.3" y="1800.83" font-size="17.8" text-anchor="end" transform="translate(0 -54.03) scale(1 1.03)">0.20</text>
<line x1="807" y1="1734.2" x2="810" y2="1734.2" stroke="#484848" stroke-width="1.2"/>
<line x1="1321.4" y1="1734.2" x2="1318.4" y2="1734.2" stroke="#484848" stroke-width="1.2"/>
<text x="800.3" y="1740.43" font-size="17.8" text-anchor="end" transform="translate(0 -52.21) scale(1 1.03)">0.25</text>
<line x1="807" y1="1673.8" x2="810" y2="1673.8" stroke="#484848" stroke-width="1.2"/>
<line x1="1321.4" y1="1673.8" x2="1318.4" y2="1673.8" stroke="#484848" stroke-width="1.2"/>
<text x="800.3" y="1680.03" font-size="17.8" text-anchor="end" transform="translate(0 -50.4) scale(1 1.03)">0.30</text>
<line x1="807" y1="1613.4" x2="810" y2="1613.4" stroke="#484848" stroke-width="1.2"/>
<line x1="1321.4" y1="1613.4" x2="1318.4" y2="1613.4" stroke="#484848" stroke-width="1.2"/>
<text x="800.3" y="1619.63" font-size="17.8" text-anchor="end" transform="translate(0 -48.59) scale(1 1.03)">0.35</text>
<line x1="807" y1="1553" x2="810" y2="1553" stroke="#484848" stroke-width="1.2"/>
<line x1="1321.4" y1="1553" x2="1318.4" y2="1553" stroke="#484848" stroke-width="1.2"/>
<text x="800.3" y="1559.23" font-size="17.8" text-anchor="end" transform="translate(0 -46.78) scale(1 1.03)">0.40</text>
<text x="800.3" y="1498.83" font-size="17.8" text-anchor="end" transform="translate(0 -44.97) scale(1 1.03)">0.45</text>
<line x1="935.4" y1="1492.6" x2="935.4" y2="1495.6" stroke="#484848" stroke-width="1.2"/>
<line x1="935.4" y1="1915.4" x2="935.4" y2="1912.4" stroke="#484848" stroke-width="1.2"/>
<text x="935.4" y="1939.7" font-size="17.4" text-anchor="middle" transform="translate(0 -155.18) scale(1 1.08)">scrambled</text>
<line x1="1063.8" y1="1492.6" x2="1063.8" y2="1495.6" stroke="#484848" stroke-width="1.2"/>
<line x1="1063.8" y1="1915.4" x2="1063.8" y2="1912.4" stroke="#484848" stroke-width="1.2"/>
<text x="1063.8" y="1939.7" font-size="17.4" text-anchor="middle" transform="translate(0 -155.18) scale(1 1.08)">control</text>
<line x1="1192.7" y1="1492.6" x2="1192.7" y2="1495.6" stroke="#484848" stroke-width="1.2"/>
<line x1="1192.7" y1="1915.4" x2="1192.7" y2="1912.4" stroke="#484848" stroke-width="1.2"/>
<text x="1192.7" y="1939.7" font-size="17.4" text-anchor="middle" transform="translate(0 -155.18) scale(1 1.08)">AAV9</text>
<text x="755.4" y="1704" font-size="18.7" text-anchor="middle" font-weight="bold" textLength="197.1" lengthAdjust="spacingAndGlyphs" transform="rotate(-90 755.4 1704)">synchrony (day 12-18)</text>
<text x="729.6" y="1459.7" font-size="28.5" font-weight="bold">H.</text>
<line x1="935.4" y1="1616.5" x2="935.4" y2="1673.1" stroke="#262626" stroke-width="1.25"/>
<line x1="928.9" y1="1616.5" x2="941.9" y2="1616.5" stroke="#262626" stroke-width="1.35"/>
<line x1="928.9" y1="1673.1" x2="941.9" y2="1673.1" stroke="#262626" stroke-width="1.35"/>
<line x1="1063.8" y1="1551.5" x2="1063.8" y2="1607.5" stroke="#262626" stroke-width="1.25"/>
<line x1="1057.3" y1="1551.5" x2="1070.3" y2="1551.5" stroke="#262626" stroke-width="1.35"/>
<line x1="1057.3" y1="1607.5" x2="1070.3" y2="1607.5" stroke="#262626" stroke-width="1.35"/>
<line x1="1192.7" y1="1783.4" x2="1192.7" y2="1839.5" stroke="#262626" stroke-width="1.25"/>
<line x1="1186.2" y1="1783.4" x2="1199.2" y2="1783.4" stroke="#262626" stroke-width="1.35"/>
<line x1="1186.2" y1="1839.5" x2="1199.2" y2="1839.5" stroke="#262626" stroke-width="1.35"/>
<circle cx="935.4" cy="1645" r="5.1" fill="#0b62e3"/>
<circle cx="1063.8" cy="1579.5" r="5.1" fill="#0b62e3"/>
<circle cx="1192.7" cy="1812" r="5.1" fill="#0b62e3"/>
<path d="M1205.8 1572 C1223.18 1572 1234.4 1572.6 1237.4 1574.8 L1237.4 1698.9 M1237.4 1725.9 L1237.4 1808.2 C1234.4 1810.4 1223.18 1811 1205.8 1811" stroke="#000" stroke-width="1.7" fill="none"/>
<text x="1238.5" y="1718.7" font-size="20" text-anchor="middle" stroke="#000" stroke-width="0.3">***</text>
<rect x="792.6" y="2031" width="532.1" height="397.9" fill="none" stroke="#2c2c2c" stroke-width="1.5"/>
<text x="785.5" y="2435.13" font-size="17.8" text-anchor="end" transform="translate(0 -73.05) scale(1 1.03)">8</text>
<line x1="792.6" y1="2389.11" x2="795.6" y2="2389.11" stroke="#2c2c2c" stroke-width="1.2"/>
<line x1="1324.7" y1="2389.11" x2="1321.7" y2="2389.11" stroke="#2c2c2c" stroke-width="1.2"/>
<text x="785.5" y="2395.34" font-size="17.8" text-anchor="end" transform="translate(0 -71.86) scale(1 1.03)">10</text>
<line x1="792.6" y1="2349.32" x2="795.6" y2="2349.32" stroke="#2c2c2c" stroke-width="1.2"/>
<line x1="1324.7" y1="2349.32" x2="1321.7" y2="2349.32" stroke="#2c2c2c" stroke-width="1.2"/>
<text x="785.5" y="2355.55" font-size="17.8" text-anchor="end" transform="translate(0 -70.67) scale(1 1.03)">12</text>
<line x1="792.6" y1="2309.53" x2="795.6" y2="2309.53" stroke="#2c2c2c" stroke-width="1.2"/>
<line x1="1324.7" y1="2309.53" x2="1321.7" y2="2309.53" stroke="#2c2c2c" stroke-width="1.2"/>
<text x="785.5" y="2315.76" font-size="17.8" text-anchor="end" transform="translate(0 -69.47) scale(1 1.03)">14</text>
<line x1="792.6" y1="2269.74" x2="795.6" y2="2269.74" stroke="#2c2c2c" stroke-width="1.2"/>
<line x1="1324.7" y1="2269.74" x2="1321.7" y2="2269.74" stroke="#2c2c2c" stroke-width="1.2"/>
<text x="785.5" y="2275.97" font-size="17.8" text-anchor="end" transform="translate(0 -68.28) scale(1 1.03)">16</text>
<line x1="792.6" y1="2229.95" x2="795.6" y2="2229.95" stroke="#2c2c2c" stroke-width="1.2"/>
<line x1="1324.7" y1="2229.95" x2="1321.7" y2="2229.95" stroke="#2c2c2c" stroke-width="1.2"/>
<text x="785.5" y="2236.18" font-size="17.8" text-anchor="end" transform="translate(0 -67.09) scale(1 1.03)">18</text>
<line x1="792.6" y1="2190.16" x2="795.6" y2="2190.16" stroke="#2c2c2c" stroke-width="1.2"/>
<line x1="1324.7" y1="2190.16" x2="1321.7" y2="2190.16" stroke="#2c2c2c" stroke-width="1.2"/>
<text x="785.5" y="2196.39" font-size="17.8" text-anchor="end" transform="translate(0 -65.89) scale(1 1.03)">20</text>
<line x1="792.6" y1="2150.37" x2="795.6" y2="2150.37" stroke="#2c2c2c" stroke-width="1.2"/>
<line x1="1324.7" y1="2150.37" x2="1321.7" y2="2150.37" stroke="#2c2c2c" stroke-width="1.2"/>
<text x="785.5" y="2156.6" font-size="17.8" text-anchor="end" transform="translate(0 -64.7) scale(1 1.03)">22</text>
<line x1="792.6" y1="2110.58" x2="795.6" y2="2110.58" stroke="#2c2c2c" stroke-width="1.2"/>
<line x1="1324.7" y1="2110.58" x2="1321.7" y2="2110.58" stroke="#2c2c2c" stroke-width="1.2"/>
<text x="785.5" y="2116.81" font-size="17.8" text-anchor="end" transform="translate(0 -63.5) scale(1 1.03)">24</text>
<line x1="792.6" y1="2070.79" x2="795.6" y2="2070.79" stroke="#2c2c2c" stroke-width="1.2"/>
<line x1="1324.7" y1="2070.79" x2="1321.7" y2="2070.79" stroke="#2c2c2c" stroke-width="1.2"/>
<text x="785.5" y="2077.02" font-size="17.8" text-anchor="end" transform="translate(0 -62.31) scale(1 1.03)">26</text>
<text x="785.5" y="2037.23" font-size="17.8" text-anchor="end" transform="translate(0 -61.12) scale(1 1.03)">28</text>
<line x1="925.4" y1="2031" x2="925.4" y2="2034" stroke="#2c2c2c" stroke-width="1.2"/>
<line x1="925.4" y1="2428.9" x2="925.4" y2="2425.9" stroke="#2c2c2c" stroke-width="1.2"/>
<text x="925.4" y="2451.9" font-size="17.4" text-anchor="middle" transform="translate(0 -196.15) scale(1 1.08)">scrambled</text>
<line x1="1058.4" y1="2031" x2="1058.4" y2="2034" stroke="#2c2c2c" stroke-width="1.2"/>
<line x1="1058.4" y1="2428.9" x2="1058.4" y2="2425.9" stroke="#2c2c2c" stroke-width="1.2"/>
<text x="1058.4" y="2451.9" font-size="17.4" text-anchor="middle" transform="translate(0 -196.15) scale(1 1.08)">control</text>
<line x1="1191.1" y1="2031" x2="1191.1" y2="2034" stroke="#2c2c2c" stroke-width="1.2"/>
<line x1="1191.1" y1="2428.9" x2="1191.1" y2="2425.9" stroke="#2c2c2c" stroke-width="1.2"/>
<text x="1191.1" y="2451.9" font-size="17.4" text-anchor="middle" transform="translate(0 -196.15) scale(1 1.08)">AAV9</text>
<text x="753.1" y="2230.1" font-size="17.4" text-anchor="middle" font-weight="bold" textLength="225.8" lengthAdjust="spacingAndGlyphs" transform="rotate(-90 753.1 2230.1)">spikes per burst (day12-18)</text>
<text x="728.1" y="2004.8" font-size="28.5" font-weight="bold">J.</text>
<line x1="925.4" y1="2126" x2="925.4" y2="2214.8" stroke="#262626" stroke-width="1.25"/>
<line x1="918.9" y1="2126" x2="931.9" y2="2126" stroke="#262626" stroke-width="1.35"/>
<line x1="918.9" y1="2214.8" x2="931.9" y2="2214.8" stroke="#262626" stroke-width="1.35"/>
<line x1="1058.4" y1="2098.5" x2="1058.4" y2="2186.8" stroke="#262626" stroke-width="1.25"/>
<line x1="1051.9" y1="2098.5" x2="1064.9" y2="2098.5" stroke="#262626" stroke-width="1.35"/>
<line x1="1051.9" y1="2186.8" x2="1064.9" y2="2186.8" stroke="#262626" stroke-width="1.35"/>
<line x1="1191.1" y1="2295" x2="1191.1" y2="2383.2" stroke="#262626" stroke-width="1.25"/>
<line x1="1184.6" y1="2295" x2="1197.6" y2="2295" stroke="#262626" stroke-width="1.35"/>
<line x1="1184.6" y1="2383.2" x2="1197.6" y2="2383.2" stroke="#262626" stroke-width="1.35"/>
<circle cx="925.4" cy="2170.7" r="5.1" fill="#0b62e3"/>
<circle cx="1058.4" cy="2143.1" r="5.1" fill="#0b62e3"/>
<circle cx="1191.1" cy="2339.7" r="5.1" fill="#0b62e3"/>
<path d="M1205.8 2140 C1223.18 2140 1234.4 2140.6 1237.4 2142.8 L1237.4 2226.3 M1237.4 2252.9 L1237.4 2336 C1234.4 2338.2 1223.18 2338.8 1205.8 2338.8" stroke="#000" stroke-width="1.7" fill="none"/>
<text x="1238.5" y="2245.85" font-size="20" text-anchor="middle" stroke="#000" stroke-width="0.3">*</text>
<path d="M1255.7 2114 C1273.3 2114 1284.7 2114.6 1287.7 2116.8 L1287.7 2226.3 M1287.7 2252.9 L1287.7 2336 C1284.7 2338.2 1273.3 2338.8 1255.7 2338.8" stroke="#000" stroke-width="1.7" fill="none"/>
<text x="1287.9" y="2245.85" font-size="20" text-anchor="middle" stroke="#000" stroke-width="0.3">**</text>
<path d="M1205.8 1627.6 C1223 1627.6 1234.4 1628.1 1237.4 1630.2" stroke="#000" stroke-width="1.7" fill="none"/>
</g>
</svg>
</body></html>
